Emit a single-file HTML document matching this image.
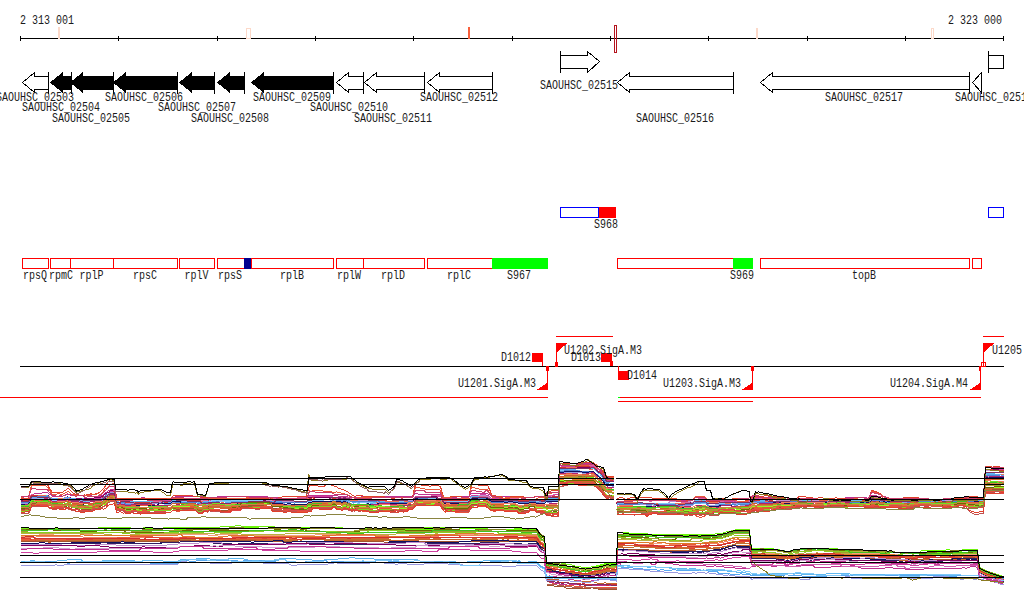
<!DOCTYPE html>
<html><head><meta charset="utf-8"><title>genome browser</title>
<style>
html,body{margin:0;padding:0;background:#fff;overflow:hidden}
svg{display:block}
text{font-family:"Liberation Mono",monospace;font-size:10px;fill:#1a1a1a;white-space:pre}
</style></head>
<body>
<svg width="1024" height="611" viewBox="0 0 1024 611" shape-rendering="crispEdges">
<rect x="0" y="0" width="1024" height="611" fill="#fff"/>
<rect x="20" y="38" width="984" height="1" fill="#000"/>
<rect x="20" y="36" width="1" height="5" fill="#000"/>
<rect x="118" y="36" width="1" height="5" fill="#000"/>
<rect x="217" y="36" width="1" height="5" fill="#000"/>
<rect x="315" y="36" width="1" height="5" fill="#000"/>
<rect x="413" y="36" width="1" height="5" fill="#000"/>
<rect x="512" y="36" width="1" height="5" fill="#000"/>
<rect x="610" y="36" width="1" height="5" fill="#000"/>
<rect x="708" y="36" width="1" height="5" fill="#000"/>
<rect x="807" y="36" width="1" height="5" fill="#000"/>
<rect x="905" y="36" width="1" height="5" fill="#000"/>
<rect x="1003" y="36" width="1" height="5" fill="#000"/>
<rect x="58" y="27" width="2" height="12" fill="#fcd9c9"/>
<rect x="246.5" y="28.5" width="4" height="10" fill="#fff" stroke="#fcd9c9"/>
<rect x="468" y="27" width="2" height="12" fill="#f9603c"/>
<rect x="756" y="28" width="2" height="11" fill="#fcd9c9"/>
<rect x="931.5" y="28.5" width="2" height="10" fill="#fff" stroke="#fcd9c9"/>
<rect x="614.5" y="25.5" width="2" height="27" fill="none" stroke="#b4141e"/>
<text transform="translate(20,24) scale(1,1.2)">2 313 001</text>
<text transform="translate(948,24) scale(1,1.2)">2 323 000</text>
<path d="M48.5,76.5 L34.5,76.5 L34.5,72.5 L22.5,82.5 L34.5,92.5 L34.5,89.5 L48.5,89.5" fill="#fff" stroke="#000"/>
<rect x="48" y="72" width="1" height="22" fill="#000"/>
<polygon points="50,82.5 63,72 63,76 71,76 71,90 63,90 63,93" fill="#000"/>
<rect x="71" y="72" width="1" height="22" fill="#000"/>
<polygon points="70,82.5 83,72 83,76 113,76 113,90 83,90 83,93" fill="#000"/>
<rect x="113" y="72" width="1" height="22" fill="#000"/>
<polygon points="113,82.5 126,72 126,76 177,76 177,90 126,90 126,93" fill="#000"/>
<rect x="177" y="72" width="1" height="22" fill="#000"/>
<polygon points="179,82.5 192,72 192,76 214,76 214,90 192,90 192,93" fill="#000"/>
<rect x="214" y="72" width="1" height="22" fill="#000"/>
<polygon points="217,82.5 230,72 230,76 244,76 244,90 230,90 230,93" fill="#000"/>
<rect x="244" y="72" width="1" height="22" fill="#000"/>
<polygon points="251,82.5 264,72 264,76 333,76 333,90 264,90 264,93" fill="#000"/>
<rect x="333" y="72" width="1" height="22" fill="#000"/>
<path d="M363.5,76.5 L348.5,76.5 L348.5,72.5 L336.5,82.5 L348.5,92.5 L348.5,89.5 L363.5,89.5" fill="#fff" stroke="#000"/>
<rect x="363" y="72" width="1" height="22" fill="#000"/>
<path d="M424.5,76.5 L376.5,76.5 L376.5,72.5 L364.5,82.5 L376.5,92.5 L376.5,89.5 L424.5,89.5" fill="#fff" stroke="#000"/>
<rect x="424" y="72" width="1" height="22" fill="#000"/>
<path d="M492.5,76.5 L439.5,76.5 L439.5,72.5 L427.5,82.5 L439.5,92.5 L439.5,89.5 L492.5,89.5" fill="#fff" stroke="#000"/>
<rect x="492" y="72" width="1" height="22" fill="#000"/>
<path d="M733.5,76.5 L629.5,76.5 L629.5,72.5 L617.5,82.5 L629.5,92.5 L629.5,89.5 L733.5,89.5" fill="#fff" stroke="#000"/>
<rect x="733" y="72" width="1" height="22" fill="#000"/>
<path d="M969.5,76.5 L772.5,76.5 L772.5,72.5 L760.5,82.5 L772.5,92.5 L772.5,89.5 L969.5,89.5" fill="#fff" stroke="#000"/>
<rect x="969" y="72" width="1" height="22" fill="#000"/>
<path d="M981.5,72.5 L972.5,82.5 L981.5,92.5" fill="#fff" stroke="#000"/>
<rect x="981" y="72" width="1" height="22" fill="#000"/>
<path d="M560.5,55.5 L587.5,55.5 L587.5,51.5 L599.5,61.5 L587.5,72.5 L587.5,68.5 L560.5,68.5" fill="#fff" stroke="#000"/>
<rect x="560" y="51" width="1" height="22" fill="#000"/>
<rect x="988.5" y="55.5" width="15" height="13" fill="#fff" stroke="#000"/>
<rect x="988" y="51" width="1" height="22" fill="#000"/>
<text transform="translate(-4,101) scale(1,1.2)">SAOUHSC_02503</text>
<text transform="translate(22,111) scale(1,1.2)">SAOUHSC_02504</text>
<text transform="translate(52,122) scale(1,1.2)">SAOUHSC_02505</text>
<text transform="translate(105,101) scale(1,1.2)">SAOUHSC_02506</text>
<text transform="translate(158,111) scale(1,1.2)">SAOUHSC_02507</text>
<text transform="translate(191,122) scale(1,1.2)">SAOUHSC_02508</text>
<text transform="translate(253,101) scale(1,1.2)">SAOUHSC_02509</text>
<text transform="translate(310,111) scale(1,1.2)">SAOUHSC_02510</text>
<text transform="translate(354,122) scale(1,1.2)">SAOUHSC_02511</text>
<text transform="translate(420,101) scale(1,1.2)">SAOUHSC_02512</text>
<text transform="translate(540,89) scale(1,1.2)">SAOUHSC_02515</text>
<text transform="translate(636,122) scale(1,1.2)">SAOUHSC_02516</text>
<text transform="translate(825,101) scale(1,1.2)">SAOUHSC_02517</text>
<text transform="translate(955,101) scale(1,1.2)">SAOUHSC_02518</text>
<rect x="22.5" y="258.5" width="26" height="10" fill="#fff" stroke="#ff0000"/>
<rect x="50.5" y="258.5" width="21" height="10" fill="#fff" stroke="#ff0000"/>
<rect x="70.5" y="258.5" width="43" height="10" fill="#fff" stroke="#ff0000"/>
<rect x="113.5" y="258.5" width="64" height="10" fill="#fff" stroke="#ff0000"/>
<rect x="179.5" y="258.5" width="35" height="10" fill="#fff" stroke="#ff0000"/>
<rect x="217.5" y="258.5" width="27" height="10" fill="#fff" stroke="#ff0000"/>
<rect x="251.5" y="258.5" width="82" height="10" fill="#fff" stroke="#ff0000"/>
<rect x="336.5" y="258.5" width="27" height="10" fill="#fff" stroke="#ff0000"/>
<rect x="363.5" y="258.5" width="61" height="10" fill="#fff" stroke="#ff0000"/>
<rect x="427.5" y="258.5" width="65" height="10" fill="#fff" stroke="#ff0000"/>
<rect x="617.5" y="258.5" width="116" height="10" fill="#fff" stroke="#ff0000"/>
<rect x="760.5" y="258.5" width="209" height="10" fill="#fff" stroke="#ff0000"/>
<rect x="972.5" y="258.5" width="9" height="10" fill="#fff" stroke="#ff0000"/>
<rect x="244" y="258" width="7" height="11" fill="#000090"/>
<rect x="492" y="258" width="56" height="11" fill="#00ff00"/>
<rect x="733" y="258" width="20" height="11" fill="#00ff00"/>
<rect x="560.5" y="207.5" width="38" height="10" fill="#fff" stroke="#0000ff"/>
<rect x="599" y="207" width="17" height="11" fill="#ff0000"/>
<rect x="988.5" y="207.5" width="15" height="10" fill="#fff" stroke="#0000ff"/>
<text transform="translate(23,279) scale(1,1.2)">rpsQ</text>
<text transform="translate(49,279) scale(1,1.2)">rpmC</text>
<text transform="translate(79.5,279) scale(1,1.2)">rplP</text>
<text transform="translate(133,279) scale(1,1.2)">rpsC</text>
<text transform="translate(184.5,279) scale(1,1.2)">rplV</text>
<text transform="translate(218,279) scale(1,1.2)">rpsS</text>
<text transform="translate(280,279) scale(1,1.2)">rplB</text>
<text transform="translate(337,279) scale(1,1.2)">rplW</text>
<text transform="translate(381,279) scale(1,1.2)">rplD</text>
<text transform="translate(447,279) scale(1,1.2)">rplC</text>
<text transform="translate(507,279) scale(1,1.2)">S967</text>
<text transform="translate(730,279) scale(1,1.2)">S969</text>
<text transform="translate(852,279) scale(1,1.2)">topB</text>
<text transform="translate(594,228) scale(1,1.2)">S968</text>
<rect x="20" y="366" width="984" height="1" fill="#000"/>
<rect x="556" y="336" width="57" height="1" fill="#ff0000"/>
<rect x="983" y="336" width="21" height="1" fill="#ff0000"/>
<rect x="0" y="397" width="548" height="1" fill="#ff0000"/>
<rect x="618" y="397" width="363" height="1" fill="#ff0000"/>
<rect x="618" y="397" width="2" height="1" fill="#00ff00"/>
<rect x="618" y="401" width="135" height="1" fill="#ff0000"/>
<polygon points="556,343 567.5,343 556,353" fill="#ff0000"/>
<rect x="556" y="343" width="1" height="24" fill="#ff0000"/>
<rect x="555" y="362" width="3" height="5" fill="#ff0000"/>
<polygon points="983,343 994.5,343 983,353" fill="#ff0000"/>
<rect x="983" y="343" width="1" height="24" fill="#ff0000"/>
<rect x="981.5" y="362.5" width="4" height="4" fill="none" stroke="#ff0000"/>
<polygon points="548,390 536.5,390 548,382.5" fill="#ff0000"/>
<rect x="547" y="366" width="1" height="24" fill="#ff0000"/>
<rect x="546" y="366" width="3" height="5" fill="#ff0000"/>
<polygon points="753,390 741.5,390 753,382.5" fill="#ff0000"/>
<rect x="752" y="366" width="1" height="24" fill="#ff0000"/>
<rect x="751" y="366" width="3" height="5" fill="#ff0000"/>
<polygon points="981,390 969.5,390 981,382.5" fill="#ff0000"/>
<rect x="980" y="366" width="1" height="24" fill="#ff0000"/>
<rect x="979" y="366" width="2" height="5" fill="#ff0000"/>
<rect x="532" y="353" width="11" height="9" fill="#ff0000"/>
<rect x="542" y="362" width="1" height="4" fill="#ff0000"/>
<rect x="601" y="353" width="11" height="9" fill="#ff0000"/>
<rect x="610" y="361" width="3" height="5" fill="#ff0000"/>
<rect x="618" y="366" width="1" height="6" fill="#ff0000"/>
<rect x="618" y="371" width="11" height="9" fill="#ff0000"/>
<text transform="translate(501,361) scale(1,1.2)">D1012</text>
<text transform="translate(564,354) scale(1,1.2)">U1202.SigA.M3</text>
<text transform="translate(571,361) scale(1,1.2)">D1013</text>
<text transform="translate(458,387) scale(1,1.2)">U1201.SigA.M3</text>
<text transform="translate(627,379) scale(1,1.2)">D1014</text>
<text transform="translate(663,387) scale(1,1.2)">U1203.SigA.M3</text>
<text transform="translate(890,387) scale(1,1.2)">U1204.SigA.M4</text>
<text transform="translate(992,354) scale(1,1.2)">U1205</text>
<g transform="translate(.5,.5)" fill="none" stroke-width="1">
<path d="M20 497h3l1 1h4l1 -2l1 -1l1 -1h2l1 -1h7l1 -1h5l1 1l1 1h1l1 1l1 1h10l1 -1h2l1 -1h3l1 1h21l1 1h8l1 -1h1l1 -1l1 -1l1 -1h1l1 -1l1 -1h1l1 -1h4l1 5l1 5h14l1 -1h9l1 -1h3l1 1h25l1 -1h3l1 -1h28l1 1h12l1 -1h50l1 1h13l1 -1h25l1 -1h29l1 1h9l1 1h12l1 -1h51l1 -1l1 -1l1 -1h2l1 1h22l1 1l1 1l1 1h13l1 -1h11l1 -1l1 -1l1 -1h16l1 1h1l1 1l1 1h21l1 1h20l1 -1h10l1 -2l1 -2h11l1 -1l1 -28h34l1 1l1 1l1 1l1 1l1 1l1 1h1l1 2l1 1l1 1l1 2l1 1l1 1h7M616 499h7l1 1h62l1 -1h1l1 1h3l1 -1l1 -1l1 -1h5l1 -1h3l1 1l1 1l1 1h42l1 -1l1 -1l1 -1h10l1 1h25l1 1h24l1 1h30l1 -2h21l1 1h1l1 -1l1 -1l1 -1h5l1 1h6l1 1h4l1 1h27l1 1h26l1 1h8l1 -1h1l1 -2h10l1 1h5l1 -1h11l1 -18l1 -12h17l1 1" stroke="#c03090"/>
<path d="M20 498h8l1 -2l1 -1l1 -1h1l1 1h14l1 1h1l1 1h1l1 1h9l1 1h1l1 -1h5l1 1h3l1 1h9l1 -1h16l1 -1h1l1 -1l1 -1l1 -1h1l1 -1h1l1 -1l1 -1h4l1 5l1 5h4l1 -1h49l1 -1l1 -1h19l1 1h18l1 1h5l1 -2h48l1 -1h30l1 -1h10l1 -1h17l1 1h22l1 1h2l1 1h6l1 -1h9l1 1h24l1 1h3l1 -1h14l1 -1h1l1 -1h15l1 -2h9l1 1l1 2l1 1h14l1 1h10l1 -2l1 -1l1 -1h16l1 1l1 1h29l1 1h25l1 -2l1 -2h6l1 -1h5l1 -29h19l1 -1h2l1 1h11l1 1l1 1l1 1l1 1h1l1 1l1 1l1 1l1 1l1 2l1 1l1 1l1 2h7M616 501h12l1 -1h19l1 1h2l1 -1h17l1 1h10l1 1h11l1 -1l1 -1l1 -1h2l1 -1h6l1 1l1 1l1 1l1 1h4l1 -1h35l1 -1l1 -1h1l1 -1h13l1 1h26l1 1h75l1 -1l1 -1l1 -1h6l1 1h4l1 1h4l1 1h9l1 -1h42l1 1h12l1 -1h10l1 1h10l1 -1h7l1 -17l1 -13h5l1 1h5l1 -2h2l1 1h3" stroke="#e060a0"/>
<path d="M20 500h8l1 -1l1 -1l1 -2h3l1 -1h12l1 1l1 1h1l1 1h14l1 -1h2l1 1l1 1h2l1 -1h27l1 -1l1 -1l1 -1l1 -1h1l1 -1l1 -1h1l1 -1h3l1 -1h1l1 5l1 4h1l1 1l1 -1h1l1 1h2l1 1h26l1 -1h19l1 -1l1 -1h6l1 1h3l1 1h12l1 1h11l1 -1h11l1 1h10l1 -1h11l1 -1h6l1 1h20l1 -1l1 1h3l1 -1h10l1 1h6l1 -2h12l1 -1h4l1 -1h20l1 1h2l1 1h10l1 1h2l1 1h6l1 1h24l1 1h2l1 -1h22l1 -2h4l1 -1l1 -1l1 -1h25l1 1l1 1l1 1h25l1 -1l1 -1l1 -2h8l1 -1h5l1 1h2l1 1l1 1l1 1h8l1 1h4l1 1h5l1 1h29l1 -1h3l1 -2l1 -2h5l1 -1h2l1 -1h3l1 -29h1l1 1h32l1 1l1 1l1 1l1 1l1 1h1l1 1l1 2l1 1l1 1l1 2l1 1l1 1h7M616 502h22l1 1h53l1 -1l1 -1l1 -1h9l1 1l1 1h17l1 -1h8l1 1l1 -1h1l1 1h6l1 -1h5l1 -1l1 -1l1 -1h7l1 1h48l1 1h15l1 1h2l1 -1h13l1 1h16l1 1h1l1 -1h8l1 -1l1 -1l1 -1h4l1 1h5l1 1h1l1 -1h2l1 1h20l1 -1h45l1 -1h29l1 -16l1 -13h18" stroke="#d040a0"/>
<path d="M20 500h3l1 1h3l1 -1l1 -1l1 -2l1 -1h3l1 -1h13l1 2h1l1 1h12l1 -1h2l1 -1l1 1h2l1 1h22l1 -1h6l1 -1h1l1 -1l1 -1l1 -1h1l1 -1h1l1 -1l1 -1h2l1 1h1l1 5l1 4h5l1 2h39l1 1h4l1 -1h3l1 -1l1 -1h2l1 1h5l1 -1h9l1 -1h9l1 2h12l1 -1h3l1 -1h22l1 -1l1 1h5l1 1h23l1 1h5l1 -3h4l1 1h14l1 -1h9l1 -1h29l1 1h9l1 1h2l1 1h31l1 1h24l1 -1l1 1h3l1 -1l1 -1l1 -1h15l1 -2h5l1 2h3l1 1l1 1l1 1h25l1 -1l1 -1l1 -2h14l1 1h4l1 1h18l1 1h22l1 1h11l1 -1l1 -2h3l1 -1h5l1 -1h2l1 -29h34l1 1l1 1l1 1l1 1l1 1l1 1h1l1 2l1 1l1 1l1 2l1 1l1 1h7M616 503l1 1h13l1 -1h14l1 1l1 -1h42l1 -1h3l1 -1l1 -1h9l1 1h1l1 1h42l1 -1l1 -1l1 -1h4l1 1h13l1 -1h7l1 1h1l1 -1l1 1h33l1 -1h16l1 1h36l1 -1l1 -1l1 -1l1 1h7l1 1h1l1 1h4l1 1h3l1 -1h8l1 -1h12l1 1h39l1 -1h4l1 -1h24l1 -17l1 -12h13l1 2h4" stroke="#800060"/>
<path d="M20 503h6l1 -1h1l1 -2l1 -1l1 -2h2l1 1h2l1 -2h10l1 1h1l1 1h1l1 1l1 1h1l1 -1h7l1 -1h3l1 -1l1 1h3l1 1h7l1 1h20l1 -1l1 -1l1 -1h1l1 -1l1 -1h1l1 -1l1 -1h5l1 4l1 5h4l1 -1h3l1 1h46l1 -1h4l1 -1h18l1 1l1 -1h5l1 -1h11l1 1h21l1 1h28l1 -1h5l1 1h34l1 -1l1 -1h21l1 -1h5l1 1h12l1 1h2l1 1l1 -1h15l1 1h29l1 -1h13l1 -1l1 -1l1 -1h13l1 1h11l1 1l1 1l1 1h25l1 -2l1 -1l1 -2h6l1 -1h7l1 1h2l1 1l1 1l1 1h26l1 1h7l1 -1h5l1 1h12l1 -2l1 -1h4l1 -1l1 1h5l1 -1l1 -28h4l1 -1h8l1 1h20l1 1l1 1l1 1l1 1l1 1h1l1 1l1 2l1 1l1 1h1l1 2l1 1h7M616 502h16l1 1h35l1 -2h21l1 1h1l1 -1h1l1 -1h10l1 1l1 1h26l1 1h5l1 -1h8l1 -1h1l1 -1l1 -1h16l1 1h3l1 -1h2l1 1h13l1 1h4l1 -1h49l1 1h15l1 -1h7l1 -1h1l1 -1h13l1 1h9l1 2h22l1 -1h4l1 1h6l1 -1h24l1 -1h28l1 -16l1 -13h16l1 1h1" stroke="#c090d0"/>
<path d="M20 501h2l1 -1h5l1 -2l1 -1l1 -2h16l1 1l1 1h1l1 1h1l1 1h10l1 -1h2l1 -1l1 1h2l1 1h29l1 -1l1 -1l1 -1h1l1 -1l1 -1h1l1 -1l1 -1h3l1 -1h1l1 5l1 5h2l1 -1h1l1 2h28l1 1h6l1 -1h13l1 -1l1 -1h2l1 -1h4l1 1h20l1 2h6l1 -3h35l1 1h18l1 -1h6l1 -1h1l1 1h34l1 -1h4l1 -1h1l1 2h17l1 -1h3l1 1h12l1 1h8l1 1h13l1 -1h14l1 1h25l1 -1l1 -1l1 -1h11l1 -1h7l1 1h5l1 -1l1 2l1 1h25l1 -2h1l1 -2h7l1 1h8l1 1l1 1h1l1 1h53l1 -1l1 -2h5l1 -1h6l1 -29h15l1 -1h14l1 1h4l1 1l1 1l1 1l1 1h1l1 1l1 1l1 2l1 1l1 1l1 2l1 1l1 1h2l1 -1h2l1 1M616 502l1 1h6l1 -1h9l1 1h33l1 1h23l1 -1l1 -1l1 -1l1 -1h3l1 -1h6l1 1l1 1h12l1 1h29l1 -1l1 -1l1 -1h1l1 1h18l1 -1h35l1 1h2l1 1h34l1 -1h14l1 1h6l1 -1l1 -1l1 -1h2l1 1h8l1 1h4l1 1h15l1 -1h32l1 -1h16l1 -1h29l1 -17l1 -12h7l1 1h10" stroke="#d03030"/>
<path d="M20 502h5l1 -1h2l1 -1l1 -2l1 -1h6l1 -2h9l1 1h1l1 1h1l1 1h11l1 -1h4l1 1h3l1 1h4l1 2h14l1 -1h5l1 1h2l1 -1l1 -1l1 -1h1l1 -1l1 -1h1l1 -1l1 -1h4l1 5l1 5h2l1 -1h11l1 -1h3l1 1h35l1 -1l1 -1h48l1 1h2l1 -1h8l1 -1h21l1 -1h16l1 1l1 -1h33l1 -1h1l1 1h39l1 1h8l1 1h11l1 1h7l1 -1h20l1 -1h3l1 1h9l1 -1l1 -1l1 -1h6l1 1h18l1 1l1 1l1 1h5l1 1h19l1 -2l1 -1l1 -1h6l1 -1h9l1 1l1 1l1 1l1 1h13l1 -1h23l1 -1h6l1 1h8l1 -1l1 -1l1 -1h11l1 -29h6l1 -2h10l1 1h11l1 1h3l1 -2l1 1l1 1h1l1 1l1 1l1 1l1 1l1 1l1 2l1 1l1 1l1 1l1 2h7M616 502h22l1 1h53l1 -1l1 -1l1 -1h3l1 1h1l1 -1h3l1 1h1l1 1h10l1 1h12l1 1h17l1 -1h1l1 -1l1 -1h107l1 -1h9l1 -1l1 -1h3l1 1h4l1 1h6l1 1h67l1 -1h23l1 -1h4l1 -14l1 -12h6l1 1h11" stroke="#f07050"/>
<path d="M20 501h8l1 -2l1 -1l1 -2h16l1 1l1 1l1 1l1 1l1 1h10l1 -1h3l1 -1l1 1h2l1 1h24l1 1l1 -1h4l1 -1l1 -1l1 -1l1 -1h1l1 -1l1 -1l1 -1l1 -1h4l1 5l1 5l1 -2h1l1 -1h1l1 1h31l1 1h10l1 1h3l1 -1h2l1 -1l1 -1h6l1 1h17l1 1h5l1 -1h5l1 -1l1 1h5l1 -1h1l1 1h3l1 -1h8l1 -1h3l1 2h36l1 1h34l1 -1h4l1 -1l1 -1h27l1 1h1l1 -1h2l1 1h3l1 1h18l1 1h6l1 -1h8l1 1h11l1 1h1l1 -1h3l1 1h4l1 -1h4l1 -1l1 -1l1 -1h10l1 1h12l1 -2h1l1 1l1 1l1 2h5l1 -1h19l1 -2l1 -1l1 -2h7l1 2h6l1 1h2l1 1l1 1l1 1h4l1 -2h6l1 1l1 1h3l1 -1h5l1 1h14l1 -1h12l1 1h2l1 -2l1 -1h1l1 -1h10l1 -29h16l1 -1h17l1 1l1 1l1 1l1 1l1 1h1l1 1l1 2l1 1l1 1l1 1l1 2l1 1h3l1 1h3M616 503h29l1 1h5l1 -1h3l1 1h34l1 -1h1l1 -1l1 -1l1 -1h3l1 1h2l1 -1h2l1 1l1 1h2l1 1h9l1 -1h24l1 2h4l1 -1h1l1 -1l1 -1h7l1 -1h8l1 1h32l1 -1h8l1 1h19l1 -1h37l1 -1h1l1 -1h7l1 1h5l1 1h22l1 1h1l1 -1h32l1 1h10l1 -1h13l1 1h1l1 -1h13l1 -15l1 -12h9l1 -1h8" stroke="#60b8f0"/>
<path d="M20 501h8l1 -1l1 -2l1 -1h14l1 -2h1l1 1l1 1h1l1 1h6l1 1h1l1 1h2l1 -2h1l1 -1h4l1 1h5l1 1h5l1 -1h1l1 2h16l1 -1l1 -1h1l1 -1l1 -1l1 -1h1l1 -1l1 -1h3l1 1h1l1 5l1 4h9l1 1l1 -1h6l1 1h6l1 -1h29l1 -1l1 -1h23l1 1h11l1 -1h10l1 -1l1 1h4l1 1h5l1 -1h50l1 1h24l1 -1h4l1 -1h2l1 1h25l1 1h1l1 -1h3l1 1h2l1 1h1l1 -1h17l1 1h7l1 -1h34l1 -2l1 -1l1 -1h25l1 2l1 1l1 1h23l1 -1h1l1 -1l1 -1l1 -2h12l1 1h3l1 1l1 1l1 1h27l1 1h7l1 -1h2l1 -1h2l1 1h3l1 1h8l1 -1l1 -1h9l1 -1l1 -1h1l1 -29h8l1 1h11l1 1h13l1 1l1 1l1 1l1 1h1l1 1l1 1l1 1l1 2l1 1l1 1l1 2l1 1h2l1 -1h4M616 504h29l1 1h5l1 -1h3l1 1h36l1 -1l1 -1h7l1 -1h2l1 1l1 1h2l1 1h9l1 -1h13l1 -2h3l1 1h11l1 -1h1l1 -1l1 -1h2l1 1h9l1 1h11l1 -1h8l1 1h8l1 -1h13l1 1h6l1 -1h19l1 1h25l1 1h1l1 -1h4l1 -1l1 -1h6l1 -1h1l1 1h9l1 1h32l1 -1h7l1 1h7l1 -1h6l1 1h7l1 -1h1l1 -1h2l1 1h25l1 -15l1 -11h15l1 1h2" stroke="#58a8f0"/>
<path d="M20 502h3l1 1l1 -1h3l1 -1l1 -1l1 -2h17l1 1h1l1 1h7l1 -1h7l1 -1l1 1h2l1 1h7l1 2h6l1 -1h14l1 -1h1l1 -1h1l1 -1l1 -1l1 -1h1l1 -1h5l1 4l1 5h4l1 1h9l1 -1h3l1 1h5l1 -1h3l1 1h18l1 -1h6l1 -1l1 -1h9l1 -1h13l1 1h1l1 1h4l1 -1h5l1 -1l1 1l1 -2h8l1 1h10l1 -1h31l1 1h8l1 1h34l1 -1h4l1 -1h11l1 1h5l1 -1h10l1 1h1l1 -1h3l1 1h9l1 2h2l1 -1h12l1 1h6l1 -1h1l1 1h10l1 -1h5l1 -1h4l1 1h8l1 -1l1 -2l1 -1h25l1 2l1 1l1 1h3l1 -1h21l1 -1l1 -1l1 -2h16l1 1l1 1l1 1h13l1 1h12l1 1h10l1 -1l1 -1h3l1 1h6l1 1h4l1 -2l1 -1h12l1 -29h11l1 1h22l1 1l1 1l1 1l1 1h1l1 1l1 1l1 2l1 1l1 1l1 1l1 2l1 1h3l1 -1h3M616 504h29l1 1h5l1 -1h5l1 -1h16l1 1h16l1 -1h1l1 -1l1 -1h3l1 1h1l1 1h4l1 1h2l1 1h5l1 -1h3l1 -1h5l1 1h23l1 -1h1l1 -1h4l1 1h30l1 -1h25l1 -1h7l1 1h47l1 -1h1l1 -1h8l1 1h5l1 1h23l1 -1l1 1h6l1 -1h12l1 1h14l1 -1h8l1 -1h19l1 1h4l1 -1h3l1 -14l1 -12h1l1 1l1 1h12l1 1h2" stroke="#80c8f8"/>
<path d="M20 503h8l1 -1l1 -2l1 -2h5l1 1h11l1 1h1l1 1l1 1h7l1 -3h4l1 -1h3l1 1h2l1 1h22l1 -1h5l1 -1h1l1 -1l1 -1h1l1 -1l1 -1l1 -1h1l1 -1h3l1 1l1 5l1 4h6l1 1h16l1 1h3l1 -1h23l1 1h2l1 -1l1 -1h7l1 1h5l1 -1h1l1 1h3l1 1h5l1 1h4l1 -1h5l1 -1l1 1l1 -1h8l1 1h4l1 -1h2l1 1h1l1 -1h45l1 1h4l1 -1h3l1 1h21l1 -1h4l1 -1h19l1 -1h3l1 1h12l1 1h2l1 1l1 -1l1 1h11l1 -1h2l1 1h8l1 -2h10l1 1h10l1 -1h2l1 1h4l1 -1h4l1 -1l1 -1l1 -1h25l1 2l1 2l1 1h25l1 -1l1 -1l1 -2h3l1 -1h12l1 2h1l1 1l1 1h10l1 -1h1l1 1h3l1 -1h20l1 -1h6l1 1h6l1 1h1l1 -1l1 -1l1 1h4l1 -1h6l1 -29h3l1 1l1 -1h17l1 1h4l1 -1h4l1 -1h1l1 1l1 1l1 1l1 1l1 1l1 1h1l1 2l1 1l1 1l1 2l1 1l1 1h5l1 1h1M616 505h1l1 -1h27l1 1h5l1 -1l1 1h4l1 -1h14l1 1h19l1 -1l1 -1l1 -1h10l1 1l1 2h11l1 -1h14l1 1h1l1 1h3l1 -1h8l1 -1h1l1 -1l1 -1h75l1 -1h13l1 1h15l1 -1h4l1 1h5l1 -1l1 -1h6l1 1h3l1 1h5l1 -1h10l1 1l1 -1h2l1 1h12l1 -1h16l1 1h17l1 1h3l1 -1h28l1 -1l1 -13l1 -11h18" stroke="#9a9ae0"/>
<path d="M20 502h8l1 -2l1 -1l1 -2l1 -1h16l1 1l1 1l1 1h5l1 1h7l1 -1h1l1 -1l1 1h2l1 1h8l1 1h1l1 -1h17l1 -1h1l1 -1l1 -1l1 -1l1 -1l1 -1l1 1l1 -1l1 -1h5l1 4l1 5h8l1 2h14l1 1h30l1 -1l1 -1h2l1 -1h21l1 1h5l1 -1h12l1 -1h2l1 1l1 1h10l1 -1h36l1 -1h3l1 1h21l1 1l1 -1h11l1 -1l1 -1h3l1 -1h19l1 1h1l1 -1h1l1 1h4l1 1h1l1 -1h3l1 1l1 -1h1l1 1h26l1 -1h1l1 2h28l1 -1h4l1 -1l1 -1l1 -1h12l1 2h12l1 1l1 1l1 2h24l1 -2l1 -1l1 -1l1 -2h16l1 2h1l1 1l1 1h11l1 -1h14l1 1h10l1 -1h6l1 1h2l1 -1h6l1 -1h12l1 -29h4l1 -1h13l1 1h15l1 1l1 1l1 1h1l1 1l1 1l1 1l1 1h1l1 1l1 2l1 1l1 1h2l1 1h4M616 504h23l1 -1h5l1 1h5l1 -1h2l1 1h20l1 1h6l1 -1h9l1 -1h1l1 -1h10l1 1l1 2h1l1 1h9l1 -2h16l1 1h1l1 -1h10l1 -1h1l1 -1l1 -1h4l1 1h15l1 -1h26l1 1h68l1 -1h1l1 -1h9l1 1h6l1 1h7l1 -1h1l1 1h2l1 -1h5l1 1h10l1 -1h12l1 1h21l1 -1h3l1 -1h9l1 1h16l1 -14l1 -12h14l1 1h3" stroke="#5080d0"/>
<path d="M20 504h8l1 -2l1 -1l1 -2h17l1 1h1l1 1l1 1h4l1 -1h9l1 -1l1 1h1l1 1h1l1 1h6l1 1h4l1 -1h8l1 -1h7l1 -1h1l1 -1l1 -1l1 -1h1l1 -1l1 -1h1l1 -1h4l1 5l1 4h3l1 -1l1 1h3l1 1h32l1 -2h12l1 -1l1 -1h8l1 3h4l1 -1h5l1 1h5l1 1h4l1 -1l1 -1h33l1 -1h33l1 1h10l1 1h3l1 -1h3l1 1h15l1 -1l1 -1h3l1 -1h28l1 1h1l1 -1h2l1 1h1l1 1h2l1 1h10l1 1h4l1 -2h1l1 1h7l1 -1h31l1 -1h3l1 -1l1 -2l1 -1h2l1 1h17l1 -1h3l1 1l1 1l1 1l1 1l1 1h14l1 -1h9l1 -1l1 -1l1 -2h6l1 -1h7l1 1h1l1 1l1 1h1l1 1h12l1 1h3l1 -1h4l1 1h4l1 1h10l1 -1h6l1 1h8l1 -1l1 -1h12l1 -29h4l1 -1h17l1 1h6l1 -1h4l1 1l1 1l1 1l1 1l1 1l1 1h1l1 2l1 1l1 1l1 2l1 1l1 1h7M616 506h39l1 -1h15l1 1h3l1 1h16l1 -1h1l1 -1h10l1 1h12l1 -1h12l1 1h16l1 -1h1l1 -1l1 -1h4l1 1h8l1 -1h6l1 -1h9l1 1h11l1 -1h37l1 1h3l1 -1h7l1 1h14l1 -1h3l1 1h1l1 -1h3l1 -1l1 -1l1 1h7l1 1h2l1 -1h1l1 1h1l1 -1h7l1 1h2l1 1h11l1 -1h24l1 1h7l1 1h9l1 -1h3l1 -1h4l1 -1h5l1 1h5l1 -1h9l1 -13l1 -11h18" stroke="#101060"/>
<path d="M20 505h4l1 -1h3l1 -1l1 -1l1 -2h12l1 -2h3l1 1h1l1 1h1l1 1h4l1 -1h9l1 -1l1 1h2l1 1h7l1 1h10l1 -1h10l1 -1l1 -1l1 -1h1l1 -1l1 -1h2l1 -1l1 -1h4l1 5l1 5h2l1 -1h1l1 1h3l1 1h5l1 -1h17l1 -1h2l1 1h2l1 1h15l1 -1l1 -1h3l1 1h3l1 -1h15l1 1h6l1 -1h16l1 1h10l1 -1h1l1 1h7l1 -1h30l1 1h11l1 1h18l1 1h3l1 -1l1 -1h2l1 1l1 -1h2l1 -1h12l1 -1h7l1 1h6l1 -1h2l1 1h2l1 1h19l1 1h1l1 -1h7l1 -1h10l1 1h6l1 1h10l1 -1h4l1 -1l1 -1l1 -2h22l1 1h2l1 2l1 1l1 1l1 1l1 -1h17l1 -1h5l1 -1l1 -1l1 -2h5l1 -1h1l1 2h6l1 1h1l1 1h1l1 1l1 1h32l1 -1h4l1 -1h6l1 1h6l1 1h1l1 -1h3l1 -1h9l1 -30h18l1 1h7l1 -1h4l1 -1h2l1 1l1 1l1 1l1 2l1 1l1 1h1l1 2l1 1l1 1l1 1l1 2l1 1l1 -1l1 1h5M616 506h8l1 -1h7l1 1h12l1 1h5l1 -1h2l1 1h1l1 -1h33l1 1h1l1 -1h1l1 -1h10l1 1h2l1 1h9l1 -1h1l1 -1h9l1 1h13l1 -1h3l1 -1h2l1 -1h4l1 1h1l1 -1h16l1 -1h2l1 1h1l1 -1h11l1 1h1l1 -1h15l1 1h2l1 -1h7l1 1h9l1 -1h17l1 1h18l1 -1h1l1 -1h5l1 1h5l1 1h17l1 -1l1 1h7l1 -1h46l1 -1h10l1 1h10l1 -1h4l1 -13l1 -12h2l1 1l1 -1h14" stroke="#b02070"/>
<path d="M20 507h8l1 -2l1 -1l1 -2h1l1 -2h15l1 1h1l1 1h6l1 -1h7l1 -1h1l1 1l1 2h1l1 1h7l1 1h8l1 -1h11l1 -1h1l1 -1l1 -1h1l1 -1h1l1 -1l1 -1h1l1 -1h4l1 5l1 3h2l1 -1h1l1 1h3l1 1h5l1 -1h4l1 -1h3l1 1h7l1 -1h3l1 3h18l1 -1l1 -1h5l1 1h18l1 1h5l1 -1h5l1 -2h10l1 1h10l1 -1h6l1 -1h33l1 1h10l1 1h2l1 1h21l1 -1h3l1 -1h3l1 -1h24l1 1h1l1 -1h4l1 2h19l1 -1l1 1h9l1 -1h10l1 1h8l1 -1h8l1 -1h2l1 1h1l1 -1l1 -1l1 -1l1 -1h6l1 1h12l1 -1h3l1 1h1l1 1l1 1l1 1h24l1 -2l1 -1l1 -1h6l1 -1h7l1 1h1l1 1h1l1 1l1 1h5l1 1h6l1 1h9l1 -1h3l1 1h10l1 -1h6l1 1h8l1 -1h11l1 -1h1l1 -29h6l1 -1h5l1 1h16l1 -1h4l1 1l1 1l1 1l1 1l1 1l1 1h1l1 2l1 1l1 1l1 1l1 2l1 1h1l1 1h3l1 1h1M616 506h26l1 3h2l1 1h5l1 -1h2l1 -2h26l1 1h8l1 1h2l1 -1h7l1 -1h6l1 1h9l1 -1h29l1 -2h2l1 -1h2l1 -1h1l1 1h22l1 -1h3l1 1h5l1 -1h4l1 -1h19l1 1h53l1 -1h8l1 -1l1 1h5l1 1h4l1 -1h11l1 1h7l1 -1h46l1 -1h10l1 1h10l1 -1h4l1 -12l1 -10h18" stroke="#e8583a"/>
<path d="M20 505h8l1 -2l1 -1l1 -2h3l1 -1h12l1 1h1l1 1h1l1 1h4l1 -1h9l1 -1l1 1h2l1 1h7l1 1h13l1 -1h1l1 -1h7l1 -1h1l1 -1l1 -1l1 -1h1l1 -1h5l1 4l1 5h2l1 1h5l1 1h4l1 1l1 -1h6l1 1h2l1 -1h12l1 -1h2l1 1h13l1 -1l1 -1h13l1 -1h9l1 1l1 1h1l1 -2h3l1 -1h4l1 -1h11l1 1h4l1 1h5l1 -1h5l1 2h3l1 -1h30l1 1h18l1 1h1l1 -1h13l1 -1l1 -1h3l1 -1h23l1 1h4l1 1h1l1 -1h3l1 1h3l1 1h17l1 1h3l1 -1h5l1 -1h10l1 1h6l1 -1h10l1 -2h4l1 -1l1 -1l1 -1h7l1 1h12l1 -1h4l1 1l1 2l1 1l1 1h1l1 -1h3l1 2h18l1 -2h1l1 -2l1 -1h5l1 -1h7l1 1h1l1 1l1 1l1 1h25l1 1h1l1 1h5l1 -1h4l1 -1h6l1 1h20l1 -1h1l1 -29h22l1 1h8l1 -1h2l1 1l1 1l1 1l1 1l1 1l1 1l1 1l1 1l1 1l1 1l1 1l1 2l1 1h4l1 1h2M616 507h2l1 -2h13l1 1h12l1 1h33l1 -1h3l1 1h8l1 -1h1l1 -1l1 1h5l1 -1h3l1 1h2l1 1h6l1 1h2l1 -1h19l1 -1h7l1 1h1l1 -1h1l1 -1l1 -1h2l1 -1h1l1 1h15l1 -1h7l1 -1h43l1 1h1l1 -1h8l1 1l1 -1h7l1 1h24l1 -1h8l1 1h8l1 1h18l1 1h2l1 -1h7l1 -1h12l1 1h23l1 -1h1l1 -1h10l1 1h10l1 -1h4l1 -12l1 -10h5l1 1h12" stroke="#f08060"/>
<path d="M20 506h4l1 -1h3l1 -1l1 -2l1 -1h10l1 -2h5l1 1l1 1h1l1 1h13l1 -1h3l1 1h2l1 1h6l1 1h3l1 -1h11l1 -1h6l1 -1l1 -1l1 -1h1l1 -1l1 -1l1 -1h1l1 -1h3l1 1l1 5l1 5h2l1 -1h1l1 1l1 -1l1 1h16l1 1h12l1 -1h14l1 -1h2l1 -1l1 -1h22l1 1h1l1 1h11l1 -1h7l1 1l1 1h12l1 -1h9l1 -1h11l1 -1h18l1 2h34l1 -1h4l1 -2h9l1 1h3l1 -1h5l1 -1h3l1 1h4l1 1h1l1 -1h3l1 1h2l1 1h3l1 1h13l1 1l1 1h29l1 -1h3l1 1h4l1 -2h4l1 -1l1 -2l1 -1h10l1 1h2l1 -1h11l1 1l1 1l1 2h25l1 -1l1 -1l1 -2h6l1 -2h4l1 1h2l1 1h1l1 1l1 1l1 1h10l1 1h16l1 1h5l1 -1h4l1 -1h6l1 2h9l1 -1h12l1 -29h4l1 -1h14l1 1h15l1 1l1 1l1 1l1 1l1 1h1l1 2l1 1l1 2l1 1l1 1l1 1h3l1 1h3M616 508h2l1 -1h22l1 1h3l1 1h4l1 -2h8l1 1h33l1 -1h3l1 -1h8l1 1h4l1 2h6l1 -1h16l1 -2h12l1 -1h1l1 -1l1 -1h4l1 1h15l1 -1h5l1 1h15l1 -1h15l1 1h5l1 -1h51l1 -1h1l1 -1h1l1 1h2l1 -1h2l1 1h5l1 1h28l1 -1h16l1 1h11l1 -1h3l1 1h5l1 -1h3l1 -1h4l1 1h5l1 1h10l1 -2h4l1 -12l1 -11h6l1 1h11" stroke="#c86428"/>
<path d="M20 506h3l1 1l1 -1h3l1 -1l1 -2l1 -2h11l1 -1h4l1 1l1 1h1l1 1h8l1 1h4l1 -1h3l1 1h2l1 1h6l1 1h5l1 -1h7l1 -1h1l1 -1h6l1 -1l1 -1l1 -1h1l1 -1l1 -1l1 -1h1l1 -1h2l1 1h1l1 4l1 4h5l1 1h2l1 1h23l1 1h8l1 -1h12l1 -1l1 -1h8l1 -1h4l1 -1h1l1 1l1 1h6l1 1h1l1 1h4l1 -1h4l1 -1h11l1 1h6l1 -1h3l1 -1h9l1 -1h15l1 -1h9l1 1h4l1 2h18l1 1h12l1 -1h3l1 -1h3l1 -1h9l1 1h9l1 -2h3l1 1h4l1 1h1l1 -1h4l1 1h1l1 -1l1 1h17l1 1h4l1 1h3l1 -1h3l1 1h16l1 -1h3l1 1h1l1 1h2l1 -1h4l1 -2l1 -1l1 -1h4l1 -1h20l1 2l1 1l1 1l1 1h13l1 -2h10l1 -1l1 -1l1 -2h7l1 1h6l1 1h1l1 1h1l1 1l1 1h26l1 1h10l1 -2h1l1 1h4l1 1h22l1 -29h20l1 1h3l1 -3h9l1 1l1 1l1 1l1 1l1 1l1 1h1l1 2l1 1l1 1l1 1l1 2l1 1h7M616 507h9l1 1h1l1 -1h4l1 -1h12l1 1h13l1 -1h15l1 1h2l1 1h14l1 -1h2l1 -1h1l1 1h2l1 -1h3l1 1h2l1 1h9l1 -1h8l1 1h5l1 -1h14l1 -1l1 1l1 -1l1 -1h4l1 1l1 -1h14l1 -1h22l1 -1h16l1 1h35l1 -1h12l1 1h2l1 -1h5l1 -1h2l1 1h4l1 1h22l1 1h7l1 -1h7l1 -1h12l1 1h4l1 -1h14l1 -1h5l1 -1h9l1 1l1 1h10l1 -1l1 1h3l1 -11l1 -10h18" stroke="#40c020"/>
<path d="M20 505h8l1 -2l1 -1l1 -2h2l1 1h13l1 1h1l1 1h1l1 1h5l1 -1h4l1 1l1 -1h2l1 -1l1 1h2l1 1l1 1h21l1 -1h6l1 -1h1l1 -1l1 -1h1l1 -1l1 -1l1 -1l1 -1h5l1 4l1 5h2l1 -1h1l1 1h3l1 1h14l1 1h2l1 -1h4l1 -1h18l1 1h3l1 -1l1 -1h11l1 -1h11l1 1h1l1 1l1 -1h3l1 -1h2l1 1h1l1 -1h3l1 -1h7l1 1h4l1 1h5l1 -1h3l1 1h5l1 -1l1 -1h3l1 1h25l1 1h10l1 1h7l1 1h15l1 -1l1 -1h3l1 -1h15l1 -1h7l1 1h4l1 1h1l1 -1h1l1 -1l1 1h2l1 1h2l1 1l1 -1h1l1 1h19l1 1h4l1 -1h9l1 1h8l1 -1h3l1 1h4l1 -2h4l1 -1l1 -1l1 -1l1 -1h24l1 1l1 2l1 2h1l1 1l1 -1h22l1 -2l1 -1l1 -2h3l1 1h10l1 1h1l1 1h1l1 1l1 1h14l1 1h1l1 -1h9l1 2h5l1 -1h4l1 -1h6l1 1h22l1 -29h4l1 -1h17l1 1h2l1 -1h8l1 1l1 1l1 1l1 1h1l1 1l1 1l1 1h1l1 2l1 1l1 1l1 1h1l1 1h5M616 507h20l1 1h3l1 -1h4l1 1h9l1 -1h12l1 1h6l1 1h16l1 -1h15l1 1h9l1 -1h1l1 1h3l1 -1h15l1 -1h7l1 -1l1 1l1 -1l1 -1h4l1 1h2l1 -1h4l1 1h7l1 -1h24l1 -1h24l1 -1h13l1 -1h3l1 1h3l1 1h6l1 -1h18l1 -1h7l1 1h24l1 1h5l1 -1h7l1 -1h12l1 1h25l1 -1h10l1 1h10l1 -1h4l1 -10l1 -11h2l1 1h1l1 -1h7l1 2h5" stroke="#70e020"/>
<path d="M20 508h8l1 -2l1 -1l1 -3h16l1 1l1 1h2l1 1h7l1 -1h2l1 1l1 -1h2l1 -1l1 1h2l1 1h2l1 1h2l1 -1h8l1 1h6l1 -1h7l1 -1l1 -1h1l1 -1h1l1 -1l1 -1h1l1 -1l1 -1h4l1 5l1 4h2l1 -1h1l1 1h3l1 1h14l1 1h6l1 1h10l1 -2h10l1 1h1l1 -1l1 -1h3l1 1h3l1 -1h15l1 1h1l1 1h3l1 -1l1 -1h4l1 -1h9l1 -1h1l1 1h5l1 1h4l1 -1h9l1 -1l1 1h29l1 2h6l1 -1h11l1 1h15l1 -1l1 -1h3l1 -2h19l1 -1h3l1 1h4l1 1h1l1 -1h4l1 1h2l1 1h17l1 1h9l1 -1h1l1 1h26l1 -2h4l1 -1l1 -1l1 -1l1 -1h2l1 1h14l1 -1h5l1 1l1 1l1 1l1 2l1 1h1l1 -1h22l1 -2h1l1 -2h6l1 -1h6l1 2l1 1h1l1 1h1l1 1l1 1h26l1 2h4l1 -1l1 -1h4l1 -1h6l1 1h22l1 -29h4l1 -1h12l1 -1h4l1 1h4l1 1h6l1 1h1l1 1l1 1l1 1l1 1l1 1l1 1l1 1l1 2l1 1l1 1l1 1h3l1 1h3M616 509h27l1 -1h1l1 1l1 1h4l1 -1h26l1 1h4l1 1h5l1 -1h3l1 -1h10l1 -1l1 1h2l1 1h3l1 -1h20l1 -1h14l1 -1l1 1l1 -1l1 -1h4l1 1h9l1 -1h5l1 -1h9l1 -1l1 1l1 -1h5l1 1h3l1 -1h31l1 -1h2l1 1h39l1 -1h8l1 1h29l1 1l1 -1h7l1 -1h6l1 1h5l1 1l1 -1h9l1 1l1 -1h13l1 -1h2l1 -1h7l1 1h15l1 -11l1 -9h18" stroke="#808020"/>
<path d="M20 508h8l1 -2l1 -1l1 -3h2l1 1h13l1 1h1l1 1h1l1 -1h13l1 -1h2l1 1h1l1 1h2l1 1h5l1 1h2l1 -1h9l1 -1h7l1 -1l1 -1h1l1 -1l1 -1h1l1 -2h1l1 -1h5l1 4l1 5h2l1 -1h1l1 1h3l1 1h9l1 -1h3l1 1h5l1 -1h17l1 2h5l1 -1h1l1 -1l1 -1h3l1 1h3l1 -1h1l1 1h14l1 1h5l1 -1h5l1 -1h10l1 1h7l1 1h2l1 -2h3l1 -1h5l1 -1l1 1h19l1 -1h9l1 2h10l1 1h7l1 1h15l1 -1l1 -1h3l1 -1h1l1 -1h26l1 1h1l1 -1h2l1 1h3l1 1h4l1 1h7l1 1h13l1 -1h26l1 1h3l1 -2h2l1 -1h1l1 -1l1 -1l1 -1l1 -1h6l1 1h12l1 -1h2l1 1h1l1 1l1 2l1 1l1 1h24l1 -2l1 -1l1 -1h6l1 -1h7l1 2h2l1 1l1 1l1 1h22l1 -1h3l1 2h5l1 -1h3l1 1l1 -2h6l1 1h22l1 -29h4l1 -1h21l1 1h7l1 1l1 1h1l1 1l1 1l1 1l1 1l1 1l1 1l1 2l1 1l1 1l1 1h1l1 1h3l1 1h1M616 509l1 1h6l1 -1h6l1 1h8l1 -1h5l1 1h5l1 -1h16l1 -1h4l1 1h19l1 -1h4l1 1l1 1h1l1 -1h6l1 1h9l1 -1h1l1 -1h18l1 1h8l1 -1l1 1l1 -1l1 -1h1l1 -1h2l1 1h3l1 -1h11l1 -1h9l1 -1h11l1 -1h11l1 1h63l1 -1h4l1 1h2l1 1h22l1 1h7l1 -1h7l1 -1h12l1 1h11l1 -1h13l1 -1h10l1 1h15l1 -10l1 -9h15l1 -1h1l1 1" stroke="#a0a030"/>
<path d="M20 508h8l1 -2l1 -2l1 -2h16l1 1h2l1 1l1 1h1l1 -1h12l1 -1l1 1h2l1 1h4l1 1h16l1 -1h1l1 -1h5l1 -1h2l1 -1l1 -1h1l1 -2h1l1 -1h5l1 4l1 5h2l1 -1h3l1 1h1l1 1h14l1 1h5l1 -1l1 -1h5l1 1h17l1 -1l1 -1h3l1 1h6l1 -2h10l1 1h2l1 1h5l1 -1h5l1 -1h10l1 1h4l1 1h5l1 -1h6l1 -1h2l1 -1h27l1 -1h2l1 2h8l1 2h1l1 1h17l1 -1h1l1 1h3l1 -1l1 -1h3l1 -2h19l1 -2h3l1 2h4l1 1h1l1 -2h3l1 1h1l1 2h2l1 1l1 -1h1l1 1h13l1 1h7l1 1h1l1 -1h10l1 1h8l1 -1h8l1 -1h4l1 -1l1 -2l1 -1h3l1 -1h21l1 2l1 1h1l1 1h1l1 -1h2l1 1h19l1 -1l1 -1l1 -2h6l1 -1h3l1 1h3l1 2h2l1 1l1 1l1 1h3l1 -2h8l1 1h3l1 -1l1 1h8l1 1h10l1 -2l1 1h5l1 2h17l1 1h2l1 -1h1l1 -29h4l1 -1h7l1 1h21l1 1l1 1h1l1 1h1l1 1l1 1l1 1l1 1l1 1l1 2l1 1l1 1h5l1 1h1M616 508h11l1 1h1l1 1h15l1 1h4l1 1l1 -1h12l1 -2h12l1 1h4l1 -1l1 1h5l1 1h2l1 -1h11l1 -1h1l1 1h1l1 1h9l1 -1l1 1h7l1 -1h8l1 1h9l1 -2h1l1 -1l1 1l1 -1l1 -1h1l1 -1h2l1 1h15l1 -1h16l1 -1h4l1 -1h65l1 1h7l1 -1h9l1 1h18l1 1h3l1 -1h7l1 -1h7l1 -1h7l1 1h30l1 -1l1 -1h9l1 1h15l1 -10l1 -10h1l1 1h16" stroke="#e07828"/>
<path d="M20 508h7l1 -1l1 -1l1 -1l1 -3h4l1 1h10l1 1h1l1 1h1l1 1h14l1 -1l1 -1l1 1h2l1 1h7l1 1h6l1 -1h5l1 1l1 -1h7l1 -1h1l1 -1h1l1 -1l1 -1l1 -2l1 -1h1l1 -1h4l1 5l1 4h6l1 1h1l1 1h14l1 1h6l1 -1h17l1 -1h5l1 -1l1 -1h17l1 1h5l1 1h1l1 1h4l1 -1h4l1 -1l1 -1l1 1h9l1 1h9l1 -1l1 -2h9l1 -1h22l1 -1h2l1 1h4l1 2h10l1 2h7l1 1h3l1 -1h11l1 -1l1 -1h3l1 -1h23l1 1h4l1 1h1l1 -2h2l1 1h2l1 -1l1 1h15l1 1h2l1 1l1 -1h5l1 -1h8l1 1h14l1 1h7l1 -2h4l1 -1l1 -1l1 -1l1 -1h6l1 1h17l1 2l1 1l1 2h1l1 1l1 -2h6l1 1h15l1 -2l1 -1l1 -2h6l1 -1h7l1 1l1 1h1l1 1l1 1l1 1h18l1 -1h7l1 2h5l1 -1h4l1 -2h6l1 2h6l1 1h2l1 1h1l1 1h3l1 -1l1 1h5l1 -30h4l1 1h6l1 1h22l1 1h2l1 1l1 1l1 1l1 1l1 1l1 1l1 2l1 1l1 1l1 2h7M616 511h15l1 -1h13l1 2h5l1 -1h16l1 -1h6l1 1l1 -1h2l1 1h3l1 -1h7l1 -1h2l1 -1h3l1 1h2l1 -1h6l1 1h9l1 -2h7l1 2h6l1 -1h1l1 1h4l1 -1h1l1 1h2l1 -1h2l1 -1l1 1l1 -1l1 -1h2l1 -1h1l1 1h15l1 -1h21l1 -1h40l1 1h5l1 -1h36l1 1h9l1 1h12l1 1l1 -1h6l1 -1h7l1 -1h12l1 1h25l1 -1h10l1 1h10l1 -1h3l1 1l1 -9l1 -9h18" stroke="#90ff20"/>
<path d="M20 508h8l1 -1l1 -2l1 -2l1 -1h4l1 1h8l1 -1h1l1 2l1 1h1l1 1h9l1 -1h1l1 1h3l1 -1h1l1 1l1 -1l1 1h2l1 1h4l1 1h12l1 -1h1l1 -1h6l1 -1l1 -1l1 -1l1 -1h1l1 -1l1 -1l1 -1h1l1 -1h4l1 5l1 4h2l1 -1h1l1 1h1l1 1h2l1 1h4l1 -1h1l1 1h2l1 -1h10l1 2h10l1 -1h2l1 -1h3l1 2h5l1 -1l1 -1h13l1 -1h1l1 1h8l1 1l1 1h4l1 -2h4l1 -2h11l1 1h1l1 1h8l1 -1h8l1 -3l1 -2h28l1 2h1l1 2h10l1 1h4l1 1h5l1 1h12l1 -1l1 -1h3l1 -2h19l1 -1h3l1 2h4l1 1h1l1 -1l1 1h2l1 1h2l1 1h3l1 -3h4l1 1h9l1 1h7l1 -1h5l1 2h6l1 1h8l1 -1h3l1 1h4l1 -2h4l1 -2l1 -1l1 -1h20l1 -1h1l1 -1h1l1 1l1 1l1 2l1 1l1 1h24l1 -2h1l1 -2h6l1 -1h7l1 1h1l1 1l1 1h1l1 1h12l1 1h3l1 -1h4l1 1h1l1 -1h2l1 2h5l1 -1h4l1 -2h5l1 3l1 1h7l1 1h5l1 1l1 -2h1l1 1h3l1 -1l1 1l1 -30h4l1 -1h29l1 1l1 1l1 1l1 1l1 1l1 1l1 1l1 1l1 1l1 1l1 3l1 1l1 1h5l1 1h1M616 511h19l1 -1h9l1 2h5l1 -1h13l1 -1h4l1 2h24l1 -1h2l1 1h2l1 -1l1 1h1l1 -1h3l1 1h9l1 -1l1 1h20l1 -3h7l1 -1l1 1l1 -1l1 -1h4l1 1l1 1h2l1 -1h11l1 -1h7l1 -1h11l1 -1h1l1 -1h3l1 1h70l1 -1h7l1 1l1 1h27l1 1h2l1 -1h3l1 -1h6l1 -1h9l1 1h13l1 -1h11l1 -1h10l1 1h6l1 1h8l1 -9l1 -9h8l1 -1h9" stroke="#6b6b00"/>
<path d="M20 510h1l1 -1h2l1 -1h4l1 -2l1 -3h8l1 -1h7l1 1h2l1 1l1 1l1 -1h16l1 1h1l1 1h5l1 1h14l1 -1h1l1 -1h5l1 -1h1l1 -1h1l1 -1l1 -1l1 -1l1 -1h1l1 -1h3l1 -1l1 5l1 4h6l1 1h1l1 1h13l1 1h6l1 1l1 -1h6l1 1h9l1 -2h6l1 -1l1 -1l1 1h5l1 1l1 -1h15l1 1h1l1 1h1l1 1h2l1 -2h2l1 -1h2l1 -1h10l1 1h10l1 -1h5l1 -1h3l1 -1h11l1 4h18l1 2h18l1 1h15l1 -1h4l1 -2h6l1 -3h16l1 1h4l1 1h1l1 -1h3l1 1h2l1 1h18l1 1h3l1 1h3l1 -1h12l1 1h8l1 -1h3l1 1h4l1 -2h4l1 -2l1 -1h1l1 -1h6l1 1h17l1 1l1 2l1 2l1 1h1l1 -1h17l1 -1h4l1 -1l1 -1l1 -2h6l1 -1h7l1 2h2l1 1l1 1l1 1h9l1 -1h2l1 1h3l1 -1h7l1 1h1l1 1h9l1 1l1 -2h6l1 1l1 1h4l1 -1h2l1 1h4l1 1h8l1 -30h31l1 -1h2l1 1l1 1l1 1l1 1l1 1l1 1l1 1l1 1l1 1l1 2l1 1l1 1l1 2h7M616 511h29l1 2h5l1 -2h23l1 1h17l1 -1h4l1 1h5l1 -1h3l1 1h9l1 -1h29l1 -2l1 1l1 -1l1 -1h4l1 1h3l1 -1l1 -1h10l1 -1h21l1 -1h28l1 1h2l1 -1h16l1 1h34l1 1h9l1 -2h12l1 1h7l1 -1h7l1 -1h12l1 1h10l1 1l1 -1h7l1 1h2l1 -1h2l1 -1h8l1 1h7l1 1h4l1 -1h4l1 -8l1 -9h18" stroke="#c07030"/>
<path d="M20 509h1l1 1h2l1 -1h3l1 -1l1 -2l1 -2h17l1 1h2l1 2h6l1 -1h3l1 1l1 -2h2l1 -1l1 1l1 1h1l1 1h7l1 1h13l1 -1h1l1 -1h3l1 -1h1l1 -1h1l1 -1l1 -1l1 -1h1l1 -2h1l1 -1l1 -1h2l1 3h1l1 4l1 5l1 -1h5l1 1h1l1 1h14l1 1h1l1 -1h4l1 -1h5l1 1h6l1 -1h10l1 -1l1 -1h3l1 1h3l1 -1h15l1 1l1 1h4l1 1l1 -2h4l1 -1h11l1 1h10l1 -2h4l1 1h4l1 -2h25l1 1h2l1 1h1l1 2h9l1 -1l1 1h7l1 1h15l1 -1l1 -1h3l1 -2h13l1 1h5l1 -1h3l1 2h4l1 1h1l1 -1h4l1 1h11l1 1h7l1 -1l1 1h1l1 1h4l1 -1h3l1 -1h1l1 1h16l1 -1h8l1 -2h4l1 -1l1 -2l1 -1h15l1 1h9l1 2l1 1l1 1l1 1h2l1 1h21l1 -2l1 -1l1 -2h6l1 -1h4l1 1h2l1 1h1l1 1h1l1 1l1 1h4l1 1h2l1 -1h5l1 1h2l1 -1h3l1 1h5l1 1h4l1 1l1 -1h4l1 -3h6l1 2h8l1 1h1l1 1h1l1 -1h2l1 1l1 1h2l1 -1h2l1 -30h6l1 -1h27l1 1l1 1l1 1l1 1l1 1l1 1h1l1 2l1 1l1 1l1 2l1 1l1 1h2l1 1h4M616 511h1l1 1h25l1 1h1l1 2l1 -3h4l1 -1h31l1 1h10l1 -1h3l1 2h2l1 -1h2l1 -1h1l1 1l1 -1l1 1h3l1 -1h5l1 -1h10l1 1h3l1 -1h1l1 1h10l1 -1h1l1 -1l1 1l1 -2l1 -1h3l1 -1l1 2h7l1 -1h7l1 -1h21l1 -1h25l1 1h25l1 -1h23l1 -1h3l1 1h3l1 1h17l1 -1l1 1l1 1h10l1 -1h3l1 -1h16l1 1h11l1 -1h3l1 1l1 -1h2l1 1h5l1 -1h16l1 1h4l1 -1h4l1 -8l1 -8h18" stroke="#d86030"/>
<path d="M20 509h4l1 -1h2l1 1l1 -2l1 -2l1 -2h14l1 1h2l1 1h1l1 1h10l1 -1l1 1h2l1 -1h1l1 1h2l1 1h3l1 1h3l1 1l1 1l1 -1h11l1 -1h7l1 -1h1l1 -1l1 -1l1 -1l1 -1l1 -1l1 -1h1l1 -1h4l1 4l1 5h2l1 -1h1l1 1h1l1 1h1l1 1h5l1 -1h3l1 1h11l1 -1h23l1 -1l1 -1h3l1 1h3l1 -1h15l1 1h1l1 1h4l1 -1h4l1 -1h1l1 1h9l1 1h7l1 -1h2l1 -1h9l1 -2h6l1 -1h15l1 1h7l1 2h18l1 1h7l1 -1h4l1 1h2l1 -1l1 -1h2l1 1l1 -2h19l1 -1h3l1 1h4l1 2h1l1 -2h3l1 1h2l1 1h5l1 1h12l1 1h10l1 -1h9l1 1h8l1 -1h2l1 1h5l1 -2h4l1 -1l1 -1l1 -1l1 -1h8l1 1h9l1 -2h5l1 2l1 1l1 2l1 1h1l1 -1l1 1h21l1 -2l1 -1l1 -2h6l1 -1h7l1 2h2l1 1l1 1l1 1h12l1 1h10l1 -1h2l1 2h2l1 1h2l1 -1h4l1 -1h6l1 2h8l1 1l1 1h10l1 -1h1l1 -29h34l1 1l1 1l1 1l1 1h1l1 1l1 1l1 1l1 2l1 1l1 1l1 1l1 1l1 1h6M616 511h6l1 1h22l1 2h5l1 -1h32l1 1h2l1 -1h4l1 -1h5l1 1h2l1 -1h2l1 -1h3l1 2h4l1 1h4l1 -2h9l1 -1h4l1 -1h10l1 1h3l1 -1l1 1l1 -1l1 -2h4l1 1h11l1 -1h3l1 -1h21l1 -1h11l1 -1h3l1 1h15l1 -1h5l1 1h38l1 -1h3l1 1h2l1 1h3l1 -1h18l1 1h7l1 -1h2l1 1l1 -1h3l1 -1h12l1 1h25l1 -1h8l1 1h12l1 -1h4l1 -7l1 -8h6l1 -1h11" stroke="#a0522d"/>
<path d="M20 511h4l1 -1h3l1 -1l1 -2l1 -2h3l1 -1h13l1 1h2l1 1h5l1 -1h4l1 1l1 -1h4l1 1h2l1 1h5l1 1h13l1 1l1 -1h1l1 -1h4l1 1l1 -1l1 -1h1l1 -1l1 -1h1l1 -1l1 -1l1 -1h2l1 -1h2l1 4l1 5h2l1 -1h3l1 1h1l1 1h14l1 1h6l1 -1h23l1 -1l1 -1l1 1h2l1 1h3l1 -1h13l1 -1h1l1 1l1 1l1 1h4l1 -2h5l1 -1h4l1 1h5l1 2h10l1 -2h3l1 1h3l1 -1h1l1 -1h3l1 -1h21l1 1h4l1 2h10l1 -1h3l1 1h9l1 1h5l1 -1h3l1 -1h4l1 -3h19l1 -1h3l1 2h4l1 1h1l1 -2h2l1 1h2l1 1h2l1 1l1 -1h1l1 1h13l1 1h9l1 -1h22l1 1h5l1 -2h4l1 -1l1 -2l1 -1h19l1 -1h5l1 2l1 2l1 1l1 1l1 1l1 -1h1l1 1h6l1 1h12l1 -1l1 -2h1l1 -2h2l1 -1h3l1 -1h7l1 1h1l1 1l1 1l1 1h13l1 1h13l1 2h2l1 1h2l1 -1h4l1 -3h4l1 1h1l1 1h1l1 1h5l1 -1h1l1 1h3l1 1h6l1 1l1 1l1 -30h4l1 -1h29l1 1h1l1 1l1 1l1 1l1 1l1 1l1 1l1 1l1 1l1 2l1 1l1 1h2l1 1h3l1 1M616 512h29l1 2h5l1 -3h17l1 -1h5l1 1h7l1 1h4l1 -1h6l1 1h8l1 -1h3l1 1h9l1 -2h3l1 1h12l1 1h4l1 -1h7l1 -1l1 1l1 -1l1 -1h4l1 1h6l1 -1h5l1 -1h2l1 -1h4l1 1h10l1 -1h5l1 -1h4l1 -1h2l1 1h17l1 1h5l1 -1h1l1 1h18l1 -1h10l1 -1h10l1 1l1 -1h7l1 1h5l1 1h24l1 -1h3l1 -1h10l1 1h3l1 -1h1l1 1h25l1 -1h10l1 1h10l1 -1h1l1 1h2l1 -8l1 -8h6l1 1h11" stroke="#88d020"/>
<path d="M20 512h4l1 -1h3l1 -1l1 -2l1 -3h4l1 -1h11l1 1h2l1 1l1 1h1l1 -1h8l1 1h6l1 1h1l1 1h6l1 1h11l1 -1h1l1 -1h4l1 -1h3l1 -1h1l1 -1h1l1 -1l1 -2l1 -1l1 -1h5l1 4l1 5h2l1 -1h1l1 1l1 -1l1 1h1l1 1l1 1h4l1 -1h5l1 1h12l1 1h20l1 -1l1 -1h3l1 1h3l1 -1h14l1 -1l1 1l1 1l1 1h4l1 -2h5l1 -1h10l1 2h7l1 -1h2l1 -2h5l1 1l1 -1h2l1 -1h11l1 -1h18l1 3h3l1 1h14l1 1h15l1 -1l1 -1h1l1 1h1l1 -3h6l1 1h5l1 -1h6l1 -1h3l1 2h4l1 1h1l1 -1h4l1 1h2l1 1h1l1 -1l1 1h7l1 1h6l1 1h1l1 -1h4l1 -1l1 -1h2l1 -1h11l1 1h4l1 1h1l1 -1h6l1 1h1l1 -2h4l1 -1l1 -1l1 -1l1 -1h2l1 1h21l1 2l1 2l1 1l1 1l1 1l1 -1h8l1 1h13l1 -2l1 -1l1 -2h6l1 -1h7l1 1h1l1 1l1 1l1 1h2l1 1h2l1 -2h7l1 1h13l1 2h5l1 -1h4l1 -2h6l1 2h8l1 1l1 1h5l1 1h6l1 -30h2l1 1h1l1 -1h9l1 -1h7l1 1h2l1 -1h8l1 1l1 1l1 1l1 1h1l1 1l1 1l1 1l1 1l1 1l1 2l1 1l1 1h4l1 1h2M616 512h5l1 1h1l1 -1h6l1 -1h2l1 1h11l1 1h5l1 -2h5l1 1h1l1 -1h6l1 2h8l1 1h19l1 2h2l1 1h2l1 -1h2l1 -2h3l1 1h9l1 -2h27l1 -1h1l1 -1l1 1l1 -1l1 -1h1l1 -2h2l1 1h6l1 -1h7l1 1l1 -1h2l1 -1h2l1 1h1l1 -1h13l1 -1h28l1 1h2l1 -1h35l1 -1h15l1 1h27l1 1h2l1 -1h3l1 -1h3l1 -1h6l1 1h5l1 1h25l1 -1h8l1 1h1l1 1h10l1 -1h4l1 -7l1 -8h18" stroke="#e8503a"/>
<path d="M20 512h4l1 -1h3l1 -1l1 -2l1 -3h16l1 1l1 1h2l1 1h3l1 -1h6l1 1l1 -1h4l1 1h2l1 1h6l1 1l1 1h1l1 -1h8l1 -1h1l1 -1h7l1 -1h1l1 -1h1l1 -1h1l1 -2l1 -1h1l1 -1h4l1 4l1 5h2l1 -1h3l1 2l1 -1l1 1l1 1h4l1 -1h5l1 1h16l1 -1h11l1 1h4l1 -1l1 -1h13l1 -1h9l1 1l1 1l1 1h4l1 -2h1l1 1h1l1 1l1 -1l1 -1l1 1h9l1 1h10l1 -2h9l1 -2h18l1 -1h9l1 1h1l1 2h4l1 -2h5l1 1h7l1 1h16l1 -1h3l1 -2h19l1 -1h3l1 2h4l1 1h1l1 -2h2l1 1h3l1 1h7l1 1h10l1 1h2l1 1h3l1 -1h2l1 -1h1l1 1h12l1 -1h4l1 -1h3l1 1h4l1 -3h4l1 -1l1 -2l1 -1h1l1 1h5l1 1h11l1 -2h5l1 2l1 2l1 1l1 1l1 1l1 -1h8l1 1h13l1 -2l1 -1l1 -2h6l1 -2h7l1 2l1 2l1 1h1l1 1l1 1h12l1 1h4l1 -1h8l1 2h5l1 -1h4l1 -3h3l1 1h2l1 2h3l1 1h4l1 1l1 1h4l1 1h1l1 -2h5l1 -30h4l1 -1h17l1 1h8l1 -1h2l1 1l1 1l1 1l1 1l1 1l1 1l1 1l1 1l1 2l1 1l1 1l1 1l1 1h1l1 1h5M616 512h29l1 2h5l1 -2h7l1 1h16l1 1h6l1 1h3l1 -3h10l1 2h2l1 -1h2l1 -1h3l1 1h3l1 -2h5l1 -2h15l1 1h4l1 1h8l1 -1l1 1l1 -1l1 -1h4l1 1h13l1 -1h1l1 -1h15l1 -1h4l1 -1l1 -1h11l1 1h6l1 1h8l1 -1h3l1 -1h2l1 1h48l1 1l1 -1h8l1 -1h8l1 1h7l1 1h3l1 -1h3l1 -1h16l1 1h10l1 1l1 -1h3l1 1h9l1 -2h5l1 1h4l1 1h15l1 -6l1 -8h18" stroke="#e04848"/>
<path d="M20 507h8l1 -1l1 -2l1 -2h4l1 1h12l1 1h1l1 1h14l1 -1h1l1 1h2l1 1h7l1 1h4l1 -1h4l1 -1h6l1 -1h5l1 -2l1 -1l1 -1h1l1 -1l1 -1l1 -1h1l1 -1h4l1 5l1 4h6l1 1h16l1 1h30l1 -1l1 -1h13l1 -1h10l1 1h4l1 1l1 -1h5l1 -1l1 1h9l1 1h10l1 -1h9l1 -1h29l1 -1l1 2h18l1 1h3l1 -1h11l1 -1l1 -1h3l1 -1h19l1 -1h1l1 1h1l1 1h4l1 1h1l1 -1h3l1 1h1l1 2h1l1 1h1l1 -1l1 1h14l1 1h8l1 -1h20l1 -1h3l1 1h4l1 -1h4l1 -2l1 -1l1 -1h2l1 -1h22l1 2l1 1l1 2h25l1 -2l1 -1l1 -1h6l1 -1h7l1 1h1l1 1h1l1 1l1 1h1l1 1h16l1 -2h4l1 1h2l1 1h3l1 1h1l1 -1h4l1 -1h6l1 1h9l1 1h1l1 -1h10l1 -29h4l1 -1h13l1 -1h15l1 1l1 1l1 1l1 1l1 1h1l1 1l1 3l1 1l1 1l1 2l1 1l1 1h6l1 1M616 508h3l1 1h6l1 -1h18l1 1h5l1 -1h3l1 1h36l1 -1h1l1 -1h3l1 1h2l1 -1h2l1 1h3l1 1h9l1 -2h21l1 1h7l1 -1h1l1 -1l1 -1h20l1 -1h3l1 1h3l1 -1h9l1 1h1l1 -1h30l1 1h2l1 -1h38l1 -1h4l1 -1h7l1 1h4l1 1h22l1 1h2l1 -1h3l1 -1h16l1 1h22l1 -1h2l1 -1h8l1 1h17l1 -11l1 -10h4l1 1h11l1 -1h1" stroke="#d08040"/>
<path d="M20 501h8l1 -2l1 -1l1 -2h5l1 1h11l1 1h1l1 1h18l1 1h9l1 1h2l1 -1h17l1 -1h1l1 -1l1 -1l1 -1h1l1 -1l1 -1h1l1 -1h4l1 5l1 4h4l1 -1h8l1 1h3l1 1h16l1 -1h7l1 1h2l1 -2h8l1 -1l1 -1h3l1 1h10l1 1h13l1 2h6l1 -1h11l1 1h10l1 -1h16l1 -1h21l1 1h4l1 -2h18l1 1h12l1 -1h4l1 -1h17l1 -2h10l1 1h1l1 -1h2l1 1h3l1 1h17l1 1h10l1 -1h12l1 1h15l1 -1h4l1 -1h1l1 -1h21l1 1h3l1 1l1 1l1 2h25l1 -2l1 -1l1 -1l1 -1h15l1 1h1l1 1l1 1h26l1 1h10l1 -1h11l1 1h3l1 -2l1 -1l1 -1h11l1 -29h31l1 -1h2l1 1l1 1h1l1 1l1 1l1 1l1 1l1 1l1 1l1 2l1 1l1 1l1 2h7M616 502h7l1 1h13l1 -1h4l1 1h10l1 1h4l1 1h18l1 -1h6l1 -1h7l1 -1l1 -1h11l1 1l1 1h11l1 -1h30l1 -1l1 -1h3l1 -1h9l1 1h2l1 1h21l1 -1h8l1 1h27l1 -1l1 1h40l1 -1l1 -1l1 -1h3l1 1h4l1 1h9l1 1h28l1 -1h22l1 1h10l1 -1h1l1 -1h28l1 -15l1 -12h18" stroke="#803060"/>
<path d="M20 498h8l1 -4l1 -5l1 -5h10l1 -2h3l1 1l1 1l1 2l1 2l1 1l1 2l1 1h10l1 -1l1 -1h1l1 -1l1 -1h1l1 1l1 1l1 1l1 1l1 1h1l1 1h3l1 1h4l1 -1l1 1l1 -1h3l1 -1h1l1 1h2l1 -1h2l1 -1h1l1 -1l1 -1l1 -1l1 -1l1 -1l1 -2l1 -1l1 -2l1 -1l1 -1l1 -1h1l1 -1h2l1 10l1 10h54l1 -1l1 -1l1 -1h19l1 1h6l1 1h21l1 1h46l1 -1h6l1 1h1l1 -1h3l1 -1h24l1 -4l1 -4l1 -3h8l1 1h6l1 -2h5l1 1h2l1 1h2l1 1l1 1h2l1 1h2l1 1h1l1 1h1l1 1l1 1h1l1 1l1 1h1l1 1h1l1 -1h6l1 1h21l1 1h5l1 1h3l1 -1h17l1 -5l1 -4l1 -4h5l1 1h7l1 1h1l1 -1h7l1 1h1l1 4l1 3l1 4h6l1 -1h11l1 2h6l1 -5l1 -5l1 -4h6l1 1h8l1 -1l1 3l1 2l1 2l1 3l1 1h3l1 1h5l1 2h7l1 -2h13l1 1h9l1 -1h10l1 -2l1 -2h1l1 -1h2l1 -1h7l1 -28l1 1h19l1 -1h13l1 1l1 1h1l1 1l1 1l1 1l1 1l1 1l1 1l1 2l1 1l1 1l1 2h7M616 498h2l1 -1h3l1 1h1l1 1h1l1 -1h2l1 -1h21l1 1h24l1 1h8l1 1h6l1 -1l1 -1l1 -1h9l1 1l1 1l1 1h4l1 -1h1l1 -1h10l1 1h6l1 -1h7l1 1h4l1 1h3l1 -1l1 -1l1 -1h3l1 -2h3l1 1h4l1 -1h3l1 1h9l1 1h9l1 1h9l1 -2h7l1 1h6l1 1h4l1 -1h4l1 1h11l1 -1h1l1 1h12l1 1h11l1 1h6l1 -4l1 -3l1 -3h2l1 1h2l1 1h1l1 1h1l1 2l1 2l1 1l1 1l1 1h3l1 -1h6l1 -1h6l1 -1h15l1 2h34l1 -1h9l1 -2h13l1 1h5l1 -18l1 -13h6l1 1l1 -1h6l1 1h3" stroke="#e0402c"/>
<path d="M20 497h2l1 -1h5l1 -3l1 -4l1 -4h14l1 1l1 1l1 1l1 2l1 1l1 2l1 1h4l1 -1h2l1 1h2l1 -1h1l1 -1h1l1 -1h1l1 1l1 1l1 1h3l1 1h14l1 -1h6l1 -1h1l1 1h1l1 -1l1 -1l1 -1l1 -2l1 -1h1l1 -1l1 -1l1 -1l1 -1h1l1 -1h2l1 9l1 8h5l1 -1h44l1 -1h2l1 1l1 -1l1 -1l1 1h72l1 -1h25l1 2h34l1 -3l1 -3l1 -3l1 1h1l1 -1h10l1 1h8l1 1h3l1 -1l1 1h3l1 1h3l1 1h2l1 1h1l1 1h1l1 1h1l1 1h2l1 -1h55l1 -3l1 -4l1 -3h4l1 1h4l1 1h14l1 1l1 2l1 3l1 2h8l1 1h16l1 -4l1 -3l1 -4h3l1 1h3l1 1h8l1 2l1 1l1 2l1 2l1 1h6l1 1h5l1 -1h17l1 2h12l1 -1h1l1 -1h6l1 -2l1 -2h5l1 -1h6l1 -28h1l1 1h27l1 -1h4l1 1h1l1 1l1 1l1 1l1 1l1 1l1 1l1 2l1 1l1 1l1 2l1 1h2l1 -1h4M616 499h7l1 1h56l1 -1h11l1 -1l1 -1l1 -1h9l1 1l1 1l1 1h16l1 1h12l1 1h10l1 -1l1 -1h1l1 -1l1 -1h9l1 1h21l1 1h34l1 1h8l1 -1h22l1 -1h6l1 1h8l1 1h1l1 -3l1 -3l1 -3h2l1 1h2l1 1h2l1 1h1l1 1l1 1l1 1l1 1h4l1 1l1 1h41l1 -1h19l1 -1h1l1 -1h28l1 -18l1 -13l1 1h17" stroke="#e8583a"/>
<path d="M20 496h8l1 -2l1 -3l1 -3h4l1 1h11l1 2l1 1l1 1l1 1l1 1h3l1 1h2l1 -1h2l1 1l1 -1h1l1 -1h1l1 -1l1 1h3l1 1h2l1 1h1l1 -1h6l1 2h2l1 -1h10l1 -1h2l1 -1l1 -1l1 -1l1 -1l1 -1l1 -1l1 -1l1 -1l1 -1h5l1 7l1 6h3l1 1h12l1 -1h13l1 1h15l1 -1h7l1 -1l1 -1h11l1 1h23l1 -1h18l1 -1h21l1 1h26l1 1h30l1 -2l1 -2l1 -3h5l1 1h16l1 1h1l1 1h12l1 1h1l1 1h1l1 1h3l1 1h16l1 -1h28l1 1h1l1 -1h9l1 -2l1 -3l1 -2h9l1 2h15l1 3l1 2l1 2l1 -1h16l1 -1h7l1 -2l1 -3l1 -2h4l1 1h5l1 1h2l1 -2h2l1 2l1 1l1 1l1 2h3l1 1h5l1 2h19l1 -1h4l1 -1h8l1 -1h9l1 -2l1 -2h12l1 -28h1l1 1h14l1 -1h17l1 1l1 1l1 1l1 1h1l1 1l1 1l1 2l1 1l1 2l1 1l1 1l1 2h7M616 501h16l1 -1h42l1 1h11l1 -1h4l1 -1l1 -1l1 -1h9l1 1l1 1l1 1h27l1 -1h2l1 -1h10l1 -1l1 -1h1l1 -1h5l1 2h9l1 1h6l1 -1h2l1 1h7l1 1l1 -1h2l1 1h3l1 -1h21l1 1h29l1 -1h7l1 -1h9l1 1h4l1 -2l1 -2l1 -2h2l1 1h3l1 1h2l1 1l1 1h3l1 1h2l1 1h39l1 1h13l1 -1h10l1 -1h12l1 1h9l1 -1h6l1 -18l1 -13l1 1h16l1 1" stroke="#c83c6c"/>
<path d="M20 513h8l1 -2l1 -2l1 -3h16l1 1l1 1h2l1 1h4l1 -1h5l1 1h2l1 -1h1l1 1h2l1 1h3l1 1h2l1 -1l1 1h8l1 -1h4l1 -1h1l1 -1h5l1 -1h1l1 -1h1l1 -1l1 -1l1 -1l1 -1h1l1 -1h4l1 5l1 4h6l1 1h1l1 1h2l1 1h1l1 -1l1 -1h1l1 1l1 -1h2l1 1h2l1 1h6l1 -1h23l1 -1l1 -1h3l1 1l1 -1h4l1 -1h5l1 1h6l1 -1l1 1l1 1l1 1h4l1 -2h3l1 2l1 -1l1 -1l1 1h2l1 -1h1l1 1h4l1 1h3l1 -1h6l1 -2h9l1 -1h13l1 1h4l1 -1h7l1 -1h3l1 3h10l1 1h4l1 -1h2l1 1h5l1 1h9l1 -1l1 -1h3l1 -2h19l1 -2h3l1 3h4l1 1h1l1 -1h4l1 1h2l1 1h1l1 -1l1 1l1 -1h2l1 1h2l1 -1h7l1 1h8l1 -1h4l1 1h6l1 1h6l1 -1h1l1 -1h3l1 1h4l1 -2h4l1 -2l1 -1l1 -1l1 -1h9l1 1h11l1 -1h1l1 1l1 1l1 2l1 2l1 1h1l1 -1l1 1h21l1 -2h1l1 -2h6l1 -2h7l1 2h1l1 1l1 1h1l1 1h12l1 1h13l1 2h5l1 -1h4l1 -2h6l1 2h3l1 1h4l1 1l1 1h4l1 1h7l1 -30h4l1 -1h3l1 -1h25l1 1l1 1l1 1h1l1 1l1 1l1 1l1 1l1 1l1 2l1 1l1 1l1 1h3l1 1h3M616 514h17l1 1l1 -1h5l1 -1h4l1 1h5l1 -1h23l1 1h12l1 1h3l1 -2h5l1 1h2l1 -1l1 1h5l1 1h9l1 -2h14l1 -1h1l1 1h12l1 -1l1 1l1 -1l1 -1h2l1 -1h1l1 2l1 -1h3l1 -1h10l1 -1h18l1 -1h2l1 -1h6l1 -1l1 1h3l1 -1h32l1 1h2l1 -1h22l1 1h12l1 1h1l1 -1h20l1 1h7l1 -1h3l1 -1h4l1 -1h4l1 1h4l1 1h1l1 1h13l1 -1h1l1 1h1l1 -1h7l1 -1h1l1 1h5l1 -1l1 1l1 1l1 2l1 1l1 1h1l1 1h1l1 1h4l1 -1h4l1 -13l1 -8h9l1 -1h3l1 1h4" stroke="#c05050"/>
<path d="M20 512h4l1 -1h3l1 -1l1 -2l1 -3h8l1 1h7l1 1h1l1 1h1l1 1l1 -1h5l1 1h6l1 -2h1l1 1h2l1 1h2l1 1h1l1 1h3l1 1h4l1 -1h7l1 -1h1l1 -1h5l1 -1h1l1 1l1 -1h1l1 -1l1 -2h1l1 -1h3l1 -1h1l1 4l1 5h2l1 -1h1l1 1h1l1 1l1 -1l1 1h5l1 -1h1l1 1h6l1 1l1 -1h24l1 -1h4l1 -1l1 -1h23l1 1l1 1l1 1h4l1 -2h4l1 -1l1 -1l1 1h9l1 1h10l1 -2h9l1 -2h7l1 1h21l1 1l1 2h10l1 1h3l1 -1h3l1 1h16l1 -1h3l1 -3h6l1 1h12l1 -2h3l1 2h4l1 1h1l1 -1l1 -1h3l1 1h2l1 1h1l1 -1l1 1h11l1 1h2l1 1h9l1 -1h10l1 1l1 -1h4l1 1h2l1 -1h3l1 1l1 -1h3l1 -2h4l1 -1l1 -1l1 -2h25l1 2l1 1l1 2l1 1h1l1 -1l1 1h2l1 -1h1l1 1h6l1 -1h9l1 -2h1l1 -2l1 1h5l1 -2h7l1 2h1l1 1l1 1h1l1 1h12l1 1h13l1 2h7l1 -1h2l1 -2l1 -1l1 1h4l1 2l1 -1h5l1 1h1l1 1l1 1h1l1 1h5l1 1h2l1 -1h1l1 -31h4l1 -1h3l1 1h9l1 1h15l1 1h1l1 1l1 1l1 1l1 1l1 1l1 1l1 1l1 2l1 1l1 1l1 1h2l1 1h4M616 514h29l1 2h1l1 -2h3l1 -1h4l1 1h22l1 -1h3l1 1h14l1 1h2l1 -1h2l1 -1h3l1 1h9l1 -2h14l1 1h1l1 1h10l1 -1h1l1 -1l1 1l1 -2l1 -1h4l1 1h12l1 -1h2l1 -1h7l1 -1h2l1 1l1 -1h6l1 -1l1 1h1l1 -1l1 -1h22l1 1h7l1 -1l1 1h2l1 -2h12l1 1h19l1 1h9l1 -1h4l1 2h1l1 -1h16l1 1h8l1 1h2l1 -1h3l1 -1h3l1 -1h1l1 1h10l1 1h11l1 -1h3l1 -1h3l1 1h5l1 -2h6l1 1h1l1 1l1 1l1 1l1 1h1l1 1h2l1 1h4l1 -1h4l1 -11l1 -8h3l1 1h11l1 -1h2" stroke="#e0402c"/>
<path d="M20 517l1 -1h2l1 -1h4l1 -1h1l1 1h8l1 1h4l1 1h11l1 1h15l1 -1h5l1 1h5l1 -1h21l1 1h14l1 -1h28l1 1h16l1 1l1 -1h10l1 1h6l1 -2h13l1 -1h4l1 1h40l1 1h1l1 1h1l1 -1h39l1 -1h11l1 -1l1 -1h5l1 1l1 -1h14l1 -1h19l1 1h20l1 1h10l1 1h3l1 -1h4l1 1h15l1 -1h6l1 1h6l1 1h32l1 -1h16l1 1h16l1 -1h6l1 -1h12l1 1h5l1 1h4l1 1l1 -1h7l1 -1h5l1 -1h4l1 1l1 -1h1l1 -1h1l1 -1h2l1 -1h1l1 -1h4l1 -1l1 -1h7l1 -26h27l1 1h13l1 2l1 1l1 1l1 1l1 1h1l1 1l1 1l1 1l1 1l1 1l1 1l1 1M616 513h2l1 -1h11l1 -2h4l1 2h11l1 -1h9l1 1h22l1 1h25l1 1h12l1 -1h30l1 -1h7l1 -1h3l1 -1h12l1 -1h9l1 -1h13l1 -1h1l1 1h21l1 -1h20l1 1h40l1 1h27l1 -2h8l1 1h28l1 -1h9l1 1h15l1 -2h5l1 -8l1 -8h18" stroke="#8a8440"/>
<path d="M20 487h8l1 -1l1 -2l1 -2h14l1 2h4l1 -1h9l1 1h1l1 1h7l1 1l1 2l1 1l1 1l1 1l1 1l1 -1h3l1 -1h3l1 -1h3l1 -1h1l1 -1l1 -1l1 -1h1l1 -1h2l1 -2h2l1 -1h2l1 -1h3l1 -1h4l1 2h1l1 10h12l1 1h6l1 1l1 -1h1l1 2l1 -1l1 -1h3l1 -1h6l1 -1h9l1 1l1 1h1l1 1l1 1l1 1h4l1 -5l1 -5l1 -1h6l1 1h2l1 -2h7l1 -1h1l1 1h1l1 4l1 4l1 5h2l1 -1h2l1 1h2l1 -3l1 -3l1 -4l1 -3h19l1 -1h32l1 1h4l1 1h4l1 1h5l1 1h4l1 1h6l1 1h4l1 1h1l1 1h3l1 1h3l1 1h1l1 -4l1 -14l1 1l1 4l1 1h10l1 1l1 -1h4l1 -1l1 -1h9l1 1h7l1 -1h3l1 1h1l1 1l1 1l1 1h1l1 1h1l1 1h1l1 1h1l1 1h1l1 1h2l1 1h3l1 1h13l1 1l1 1l1 1h1l1 -1l1 -1h1l1 -1l1 -2l1 -2l1 -2l1 -2l1 1h1l1 1h1l1 1h3l1 1l1 1h1l1 1l1 1h1l1 -1l1 -1l1 -1l1 -2l1 -1h1l1 -1l1 -1l1 -1h10l1 -1h8l1 1h6l1 -1h3l1 1l1 1l1 1h1l1 1l1 1h1l1 1l1 1l1 1h1l1 1l1 1h1l1 1l1 -1h1l1 -1l1 -1h1l1 -2l1 -2l1 -1l1 -2h4l1 -1h2l1 -1h7l1 -1h3l1 -1h5l1 1l1 -1h1l1 1h1l1 1h1l1 2l1 1h10l1 1h2l1 1h4l1 1l1 2l1 1l1 1h1l1 1h6l1 1h1l1 1h1l1 1l1 3l1 4h2l1 -9h10l1 -26h2l1 1h7l1 1h8l1 -1h1l1 -1h1l1 -1h1l1 -1h1l1 -1l1 -1l1 1l1 1h1l1 1l1 1l1 1l1 1h1l1 1h1l1 1l1 1h3l1 4l1 3l1 3l1 1h1l1 -1h2l1 1h1M616 494h16l1 1h1l1 2l1 2l1 2l1 -3l1 -2l1 -2l1 -1l1 -1l1 -2h15l1 1l1 1h1l1 1l1 1l1 1l1 1l1 1h1l1 1l1 -1l1 1l1 -1l1 -1l1 -1l1 -1h1l1 -1l1 -1h1l1 -1h1l1 -1h1l1 -1h1l1 -1h1l1 -1h3l1 -1h1l1 -1h1l1 -1h2l1 -3h6l1 5l1 4h4l1 4l1 4h6l1 1h4l1 -1h1l1 -1h1l1 -1l1 -1h1l1 -1h2l1 -1h1l1 -1h1l1 -1h2l1 -1h5l1 1h2l1 10l1 1h1l1 -2l1 -4l1 -3h3l1 1h8l1 1h3l1 2h4l1 1h2l1 -1l1 1h4l1 1h4l1 1h6l1 2h8l1 -3h15l1 -1h5l1 2h21l1 1h17l1 -1l1 -2l1 -1h2l1 1h7l1 1h4l1 1h23l1 1h4l1 -1h18l1 2h10l1 -1h5l1 -1l1 -1l1 1h23l1 -1h5l1 -17l1 -13h4l1 1h8l1 1h4" stroke="#8a7a20"/>
<path d="M20 487h5l1 -1h3l1 -3l1 -2h1l1 2h24l1 1h6l1 1h2l1 1h2l1 2l1 1l1 1l1 1l1 1l1 1h2l1 -1h1l1 -1h1l1 -1h1l1 -1l1 -1l1 -1h1l1 -1l1 -1l1 1l1 -1l1 -1h6l1 -1h2l1 -1h2l1 -1l1 1l1 -1h6l1 10h4M251 484h13l1 1h3l1 1h1l1 -1l1 1h5l1 1l1 -1h2l1 1h4l1 1h3l1 1h4l1 1h1l1 1h2l1 1h4l1 1h1l1 -14h9l1 1h3l1 -1l1 1l1 -1h17l1 -1h3l1 -1h1l1 1h2l1 1l1 1l1 1h1l1 1l1 1l1 1h1l1 1l1 1h1l1 1h1l1 1h2l1 1l1 2h8l1 1h5l1 1h1l1 -2l1 1l1 1l1 1l1 -1l1 -2l1 -1l1 -1h1l1 -2l1 -2l1 -2l1 -2h2l1 1h1l1 1h1l1 1h1l1 1h1l1 1l1 1h1l1 1l1 -1l1 -1l1 -1l1 -1l1 -1l1 -1h1l1 -1" stroke="#906060"/>
<path d="M20 486h8l1 -1l1 -2l1 -2h9l1 1h10l1 -1h1l1 1h8l1 1h4l1 1h2l1 1l1 1l1 1l1 1l1 1l1 2l1 -1h2l1 -1h2l1 -1l1 -1h1l1 -1h1l1 -1l1 -1h2l1 -1h2l1 -1h4l1 -1h3l1 -1h2l1 -1h2l1 -1h1l1 1h2l1 10h11l1 1h1l1 -1h5l1 1h2l1 2l1 -1l1 -1h13l1 -1h7l1 1h1l1 1h1l1 1h4l1 -5l1 -5l1 -1l1 1h12l1 -1h3l1 1h1l1 -1h1l1 4l1 5l1 4h5l1 1h2l1 -3l1 -3l1 -3l1 -3h4l1 -1h52l1 1h1l1 1h2l1 1h7l1 1h7l1 1h3l1 1h4l1 1h5l1 1h4l1 -13h16l1 -1h25l1 1l1 1l1 1h1l1 1l1 1l1 1h1l1 1h1l1 1h1l1 1h1l1 1h1l1 1h1l1 -1h15l1 1l1 1l1 1l1 1l1 -1h1l1 -1l1 -1h1l1 -2l1 -3l1 -2l1 -2l1 1h1l1 1h2l1 1l1 1h1l1 1h1l1 1l1 1h1l1 1l1 -1l1 -1l1 -1l1 -1l1 -1l1 -1l1 -1h1l1 -1h5l1 -1h23l1 1h1l1 1h1l1 1l1 1h1l1 2h1l1 1h1l1 1l1 1h1l1 1h1l1 -1h1l1 -1l1 -1h1l1 -1l1 -2l1 -2l1 -2h9l1 -1h1l1 1h1l1 -1h6l1 -1h3l1 -1h3l1 1h1l1 1h1l1 2l1 1h6l1 1h11l1 2l1 1l1 2l1 1h2l1 1h10l1 4l1 4h2l1 -9h10l1 -25h3l1 1h6l1 1h7l1 -1h2l1 -1h2l1 -1l1 -1h2l1 1l1 1h1l1 1l1 1h1l1 1l1 1l1 1h4l1 1h2l1 3l1 4l1 3h1l1 1h5M616 493h7l1 1l1 -1h6l1 1h2l1 2l1 2l1 1l1 -2l1 -2l1 -3l1 -1l1 -1l1 -2h1l1 1h1l1 -1h5l1 1h6l1 1l1 1l1 1h1l1 1l1 1l1 1l1 2l1 1l1 -1l1 -2l1 -1l1 -1h1l1 -1l1 -1h1l1 -1h1l1 -1h2l1 -1h1l1 -1h1l1 -1h1l1 -1h1l1 -1h1l1 -1h2l1 -1h1l1 -1h7l1 5l1 4h4l1 4l1 4h2l1 1h2l1 -1h3l1 1h1l1 -1l1 -1h2l1 -1l1 -1h1l1 -1h1l1 -1h2l1 -1h2l1 -1h1l1 -1h5l1 1h2l1 10h2l1 -3l1 -3l1 -4l1 1h1l1 -1l1 1h3l1 1h5l1 1h3l1 1h3l1 1h6l1 1h4l1 1h7l1 1l1 -1h1l1 1h32l1 1h5l1 -1h1l1 1h9l1 -1h13l1 1h3l1 -1l1 -2l1 -1h6l1 1h2l1 1h5l1 1h3l1 1h2l1 -1h16l1 1h6l1 -1h14l1 1h6l1 -1h10l1 -1h2l1 -1h9l1 -1h4l1 1h14l1 -17l1 -13h5l1 1h12" stroke="#000"/>
<path d="M20 528h77l1 -1h32l1 1h11l1 -1h3l1 1h15l1 -1h56l1 -1h14l1 -1h5l1 1h33l1 1h67l1 1h67l1 -1h102l1 1h22l1 2l1 1l1 2l1 2h1l1 1h2l1 13l1 13h1l1 1h5l1 1h6l1 -1h4l1 1h5l1 1h2l1 1h5l1 1h9l1 -1h7l1 -1h3l1 -1h3l1 -1h2l1 2h5l1 1l1 -32h18l1 -1h2l1 2h12l1 -1h62l1 -1h7l1 -1h2l1 -1h4l1 -1h3l1 -1h14l1 10l1 9h19l1 1h5l1 1h5l1 1h9l1 -1h2l1 -1h6l1 -1h34l1 1h19l1 1h22l1 1h10l1 1h21l1 1h5l1 -1h24l1 -1h16l1 -2h15l1 9l1 9h1l1 1h1l1 1h1l1 1h1l1 1h2l1 1h2l1 1h2l1 1h2l1 1h2l1 1h1" stroke="#70f010"/>
<path d="M20 530h1l1 -1h49l1 -1h84l1 1h3l1 -1h12l1 1h30l1 -1h25l1 -1h27l1 1h9l1 -1h49l1 1h40l1 1h98l1 -1h28l1 1h48l1 1l1 2l1 2l1 1l1 1h1l1 1h1l1 13l1 13h7l1 1h5l1 1h4l1 1h7l1 1h5l1 1h14l1 -1h1l1 -2h3l1 -1h3l1 -1h2l1 -1l1 1h8l1 -31h11l1 1h18l1 1h15l1 1h43l1 -1h3l1 1h9l1 -1l1 -1h3l1 -1h2l1 -1h3l1 -1h15l1 9l1 10h8l1 -1h13l1 1h5l1 1h3l1 1h7l1 -1h5l1 -1h12l1 -1h14l1 1h26l1 1h22l1 1h8l1 1h14l1 1h19l1 -2l1 -1h24l1 -1h3l1 1h14l1 -1h3l1 1h8l1 9l1 8l1 1h1l1 1h1l1 1h1l1 1l1 1l1 1h2l1 1h2l1 1h2l1 1h2l1 1h2l1 1" stroke="#66ff00"/>
<path d="M20 529h59l1 1h61l1 -1h20l1 -1h22l1 1h42l1 -2h14l1 1h114l1 1h7l1 -1h84l1 2h22l1 -1h30l1 1h21l1 -2h8l1 1l1 2l1 1l1 2h1l1 1h1l1 1l1 13l1 12l1 1h6l1 1h5l1 1h5l1 2h5l1 1h5l1 1h6l1 1l1 -1l1 1h2l1 -1h5l1 -1h3l1 -1h3l1 -1h2l1 -1l1 1h8l1 -31h6l1 1h20l1 1h11l1 1h6l1 -1h47l1 -1h9l1 -1h3l1 -1h2l1 -1h3l1 -1h16l1 9l1 10h1l1 -1h6l1 -1h3l1 1h12l1 1h5l1 1h8l1 -1h5l1 -1h10l1 -1h10l1 1h7l1 1h11l1 1h10l1 -1h25l1 1h17l1 1h16l1 1h4l1 -1h19l1 -1h12l1 -1h17l1 1h6l1 -1h2l1 8l1 9l1 1h1l1 1h1l1 1h1l1 1h2l1 1h2l1 1h2l1 3h2l1 1h2l1 1h2" stroke="#808020"/>
<path d="M20 530h5l1 -1h26l1 1h26l1 1h16l1 -1h27l1 2h44l1 -2h22l1 -1h15l1 1h64l1 -1h6l1 1h8l1 -2h9l1 1h4l1 1h8l1 1h45l1 -2h44l1 1h28l1 -1h25l1 1h26l1 1h19l1 -1h29l1 2l1 1l1 2l1 1l1 1h1l1 1h1l1 13l1 12l1 1h5l1 1h4l1 1h2l1 1h6l1 1h5l1 1h6l1 1h9l1 -1h7l1 -1h2l1 1l1 -1h2l1 -1h3l1 1h3l1 -2h1l1 1l1 -31h13l1 1h17l1 1h9l1 1h16l1 -2h18l1 1h16l1 -1h8l1 -1l1 1h2l1 -1h3l1 -2l1 -1h2l1 -1h16l1 9l1 9h31l1 1h4l1 1h1l1 -1h6l1 -1h2l1 -1h13l1 -1h5l1 1h18l1 1h6l1 -1h1l1 1h11l1 1h19l1 1h19l1 1h25l1 -1h8l1 1h6l1 -1h34l1 -1l1 9l1 8l1 1h1l1 1h1l1 1h1l1 1h2l1 1h2l1 1h4l1 1h2l1 1h2l1 1" stroke="#6b6b00"/>
<path d="M20 531h7l1 1h19l1 1h21l1 -1h60l1 -1h20l1 -1h29l1 1h81l1 -1h39l1 -1h2l1 1h12l1 1h33l1 -1h42l1 1h81l1 -1h12l1 1h44l1 2l1 2l1 1l1 2h1l1 1h1l1 1l1 13l1 11l1 1h7l1 1h5l1 1h6l1 1h5l1 1h6l1 1h1l1 -2l1 1h3l1 -1h6l1 -1h5l1 -1h3l1 -1h8l1 1h2l1 -30h3l1 2h20l1 1h1l1 -1h13l1 1h13l1 1h18l1 -2h11l1 -1h6l1 1h7l1 -1h5l1 -2h3l1 -1h3l1 -1h17l1 9l1 9h14l1 -1h10l1 1h5l1 1h8l1 -1h11l1 -1h28l1 2h25l1 -1h5l1 1h10l1 -1h9l1 1h14l1 1h11l1 2h6l1 -1h25l1 -1h26l1 -1h4l1 9l1 9h1l1 1h1l1 1h1l1 1h2l1 1h2l1 1h2l1 1h2l1 1h2l1 1h2l1 1" stroke="#a0a030"/>
<path d="M20 532h101l1 1h7l1 1h4l1 -1h28l1 -1h14l1 -1l1 1h23l1 -1h9l1 1h27l1 -1h21l1 -1h9l1 1h62l1 1h30l1 -2h36l1 2h70l1 -1h21l1 2h33l1 -1h4l1 1l1 2l1 2l1 1l1 1h2l1 1l1 13l1 11h1l1 1h5l1 1h10l1 1h5l1 1h6l1 1h5l1 1h2l1 -1h7l1 -1h5l1 -1h3l1 -1h8l1 1h2l1 -30h8l1 1h14l1 1h10l1 1h26l1 1h20l1 -1h2l1 -1h12l1 -1h6l1 -1h2l1 -1h1l1 -1h3l1 -1h1l1 1h15l1 8l1 9h6l1 1h3l1 -1h13l1 1h5l1 1h5l1 -1h4l1 -1h5l1 -1h12l1 -1h11l1 1h33l1 1h26l1 1h4l1 1h12l1 1h28l1 -1h18l1 -1h26l1 8l1 8l1 1h1l1 1h1l1 1h2l1 1h2l1 1h2l1 1h2l1 2h2l1 1h3l1 1" stroke="#88d020"/>
<path d="M20 533h83l1 1h7l1 1h17l1 -1h29l1 -1h54l1 1h4l1 -1h20l1 1h43l1 -1h55l1 1h24l1 1h5l1 -1h23l1 -1h28l1 1h9l1 -1h2l1 1h98l1 1l1 2l1 1l1 2h2l1 1h1l1 13l1 11h4l1 1h5l1 1h5l1 1h6l1 1h5l1 1l1 -2h2l1 1h11l1 -1h8l1 -1h2l1 -1h3l1 1h8l1 -28h19l1 1h31l1 1h32l1 1h6l1 -1h11l1 -1h3l1 -1h3l1 -1h2l1 -1h17l1 8l1 8h28l1 1h5l1 1h2l1 -1h5l1 -1h8l1 -1h1l1 1h9l1 -1h1l1 1h34l1 -2h14l1 1h7l1 2h9l1 1h21l1 1h9l1 -1h33l1 -1h25l1 7l1 9h1l1 1h1l1 1h1l1 1l1 1h2l1 1h2l1 1h4l1 1h2l1 1h2l1 1" stroke="#b8b040"/>
<path d="M20 536h6l1 -1h11l1 -1h14l1 1h26l1 -1h11l1 1h46l1 -1h67l1 1h9l1 -1h19l1 1h76l1 -1h28l1 1h35l1 1h34l1 -1h42l1 -1h15l1 1h3l1 -1h29l1 1h14l1 1h13l1 1l1 2l1 1l1 2h1l1 1h2l1 13l1 11h3l1 1h3l1 1h4l1 1h5l1 1h6l1 1h5l1 1h6l1 1h1l1 -1h6l1 -1h7l1 -1h2l1 -1h10l1 1l1 -28h18l1 -1h16l1 1h8l1 -1h2l1 1h39l1 -1l1 1h12l1 -1h4l1 -1h3l1 -1h5l1 -1h12l1 -1h2l1 8l1 8h9l1 -1h13l1 1h5l1 1h5l1 1l1 -1h5l1 -1h17l1 -1h23l1 1h15l1 -1h29l1 1h15l1 1h22l1 1h2l1 -1h39l1 -1h13l1 8l1 8l1 1h1l1 1h1l1 1h1l1 1h2l1 1h2l1 1h1l1 1h2l1 1h2l1 1h3" stroke="#f4a080"/>
<path d="M20 537h15l1 -1h46l1 1h100l1 -1h8l1 1h24l1 -1h9l1 -1h2l1 1h16l1 1h46l1 -1h34l1 -1h58l1 1h49l1 -1h97l1 2l1 2l1 1l1 2h2l1 1h1l1 13l1 10h1l1 1h3l1 1h5l1 1h2l1 1h5l1 1h5l1 1h4l1 1h2l1 -1l1 1h7l1 -1h6l1 -1h4l1 -1h3l1 -1h2l1 1h7l1 -27h16l1 1h19l1 1h14l1 -1h11l1 1h23l1 -1h1l1 -1h11l1 -1h4l1 -1h3l1 -1h4l1 -1h9l1 1h6l1 7l1 8h10l1 -1h16l1 1h5l1 1h7l1 -1h6l1 -1h15l1 -1l1 1h15l1 1h10l1 1h3l1 -1h17l1 1h26l1 1h2l1 -1h3l1 1h2l1 -1h8l1 1h3l1 -1h14l1 -1h17l1 1h28l1 8l1 7l1 1h1l1 1h1l1 1h1l1 2h3l1 1h2l1 1h2l1 1h2l1 1h2l1 1h1" stroke="#f08060"/>
<path d="M20 539h71l1 -1h24l1 -1h12l1 -1h22l1 1h19l1 1h5l1 -1h41l1 1h64l1 -1h2l1 1h5l1 -1h10l1 -1h3l1 1h111l1 1h7l1 -3h29l1 2h19l1 1h56l1 1l1 2l1 1l1 2h2l1 1h1l1 13l1 9l1 1h5l1 1h6l1 1h7l1 1h6l1 1h5l1 1h6l1 -1h7l1 -1h5l1 -1h3l1 -1h3l1 1h3l1 1h2l1 -26h4l1 -1h1l1 1h16l1 1h16l1 -1h16l1 1h6l1 -2h13l1 -1h3l1 1l1 -1h7l1 2h7l1 -1h5l1 -1h3l1 -1h6l1 -1h15l1 8l1 7h25l1 1h1l1 -1l1 1h5l1 1h2l1 -1h5l1 -1h12l1 -1h7l1 -1h32l1 1h22l1 1h24l1 1h25l1 1h6l1 -1h19l1 -1h27l1 7l1 8h1l1 1h1l1 1h1l1 1h2l1 1h2l1 1h2l1 1h2l1 1h3l1 1h2" stroke="#e8583a"/>
<path d="M20 538h10l1 2h29l1 1h4l1 -2h78l1 -2h13l1 1h20l1 -1h6l1 1h17l1 -1h12l1 1h13l1 -1h7l1 1h6l1 1h14l1 -1h4l1 1h11l1 -3h16l1 1h237l1 1h2l1 1l1 2l1 1l1 2h1l1 1h1l1 1l1 12l1 10h5l1 1h6l1 1h5l1 1h1l1 1h6l1 1h5l1 1h11l1 -1h6l1 -1h2l1 -1h2l1 -1h11l1 -26h7l1 1h20l1 1h18l1 1h13l1 1h15l1 -2h13l1 -1h11l1 -1h3l1 -1h3l1 -1h2l1 -1h17l1 7l1 7h26l1 1h5l1 1h7l1 -1h5l1 -1h11l1 -1h18l1 1h18l1 1h29l1 1h19l1 -1h14l1 1h1l1 -1h20l1 -1h4l1 2h19l1 -1h11l1 1h4l1 7l1 8h1l1 1h1l1 1l1 1l1 1h2l1 1h2l1 1h2l1 1h2l1 1h2l1 1h2l1 1" stroke="#e04030"/>
<path d="M20 540h14l1 -1h2l1 1h54l1 -1h52l1 1h31l1 -1h6l1 -1h13l1 1h114l1 -1h11l1 -1h3l1 1h58l1 -1h25l1 1h11l1 -1h5l1 1h7l1 -1h41l1 1h24l1 2h19l1 -1h8l1 2l1 1l1 2l1 1l1 1h2l1 1l1 13l1 8l1 1l1 1h6l1 1h5l1 1h6l1 1h5l1 1h6l1 1h6l1 -1h5l1 -1h5l1 -2h3l1 -1h2l1 -1l1 1h8l1 -25h16l1 1h7l1 1h12l1 1h21l1 -1h33l1 1h5l1 -1h5l1 -1h3l1 -1h4l1 -1h3l1 -2h8l1 1h4l1 7l1 6l1 1h24l1 1h9l1 1l1 -1h1l1 1h1l1 -1h4l1 -1h8l1 -1h4l1 -1h7l1 1h31l1 1h5l1 1h2l1 -3h3l1 1h25l1 1h21l1 1h4l1 -1h23l1 -1h16l1 1h3l1 -1h1l1 1h11l1 1h1l1 7l1 7l1 1h1l1 1h1l1 1h2l1 1h2l1 1h2l1 1l1 -1l1 1h3l1 1h2l1 1h1" stroke="#d86030"/>
<path d="M20 541h15l1 -1h12l1 1h16l1 -1h32l1 -1h13l1 1h33l1 1h4l1 -1h25l1 -1h17l1 1h68l1 -1h2l1 1h29l1 -1h92l1 1h11l1 -1h68l1 -1h4l1 1h20l1 1h10l1 1h7l1 -1h19l1 2l1 1l1 2l1 1h1l1 1h1l1 1l1 12l1 10h5l1 1h5l1 1h6l1 1h5l1 1h3l1 -1h2l1 1h5l1 1h2l1 -1h8l1 -1h5l1 -1h2l1 -1h8l1 1h2l1 -26l1 1h15l1 -1h5l1 1h20l1 1h27l1 1h16l1 -1h13l1 -1h3l1 -1h3l1 -1h3l1 -1h2l1 -1h14l1 7l1 7h9l1 -1h17l1 1h6l1 1h3l1 -1h5l1 -1h8l1 -1h8l1 -1h5l1 1h5l1 1h15l1 1h4l1 1h5l1 -1h3l1 1h14l1 -1h1l1 1h18l1 1h26l1 1l1 -1h29l1 -1h13l1 -1h3l1 1h2l1 -1h5l1 8l1 7h1l1 1h1l1 1h1l1 1h2l1 1h3l1 1h2l1 1h2l1 1h2l1 1h1l1 1" stroke="#c07030"/>
<path d="M20 541h27l1 1h2l1 -1h34l1 -1h43l1 1h47l1 -1h39l1 1h7l1 -1h43l1 1h30l1 -2h22l1 1h94l1 -1h64l1 1h18l1 -2h14l1 2h18l1 2l1 1l1 2l1 2h3l1 1l1 13l1 8l1 1h2l1 1h7l1 1h7l1 -1h1l1 1h5l1 1h7l1 1h7l1 -1h6l1 -1h4l1 -1h3l1 -1h4l1 1h2l1 -1h1l1 1l1 -25h5l1 3h14l1 1h57l1 -1h11l1 -1h4l1 -1h8l1 -1l1 2h2l1 -1h2l1 -1h3l1 -1h16l1 6l1 7h14l1 -2h9l1 1h6l1 1l1 -1h1l1 1h5l1 -1h5l1 -1h1l1 1h8l1 -1h1l1 1l1 -1h12l1 1h16l1 1h10l1 -1h3l1 1h8l1 -1h2l1 1h23l1 1h3l1 1h16l1 1l1 -1h10l1 -1h39l1 -1h11l1 7l1 7h1l1 1h1l1 1h1l1 1h1l1 1h3l1 1h2l1 1h2l1 1h2l1 1l1 -1l1 1h1" stroke="#c86428"/>
<path d="M20 541h158l1 -1h11l1 1h30l1 -1h33l1 1h49l1 1h12l1 -1h64l1 1h34l1 -1h117l1 2l1 1l1 2l1 1l1 1h3l1 13l1 8h2l1 1h6l1 1h3l1 1h6l1 1h5l1 1h6l1 1h11l1 -1h8l1 -1h3l1 -1h6l1 1h4l1 -24h31l1 1h5l1 1h14l1 1h1l1 -1h13l1 1h1l1 -2h4l1 1h8l1 -1h10l1 -1h8l1 -1h3l1 -1h2l1 -1h3l1 -1h7l1 1h8l1 6l1 6h27l1 1h5l1 1h4l1 -1h5l1 -1h8l1 -1h19l1 -2h35l1 1h3l1 1l1 1h24l1 1l1 -1h8l1 1h21l1 -1h5l1 1h23l1 -1h9l1 -1h11l1 1h2l1 7l1 7l1 1h1l1 1h1l1 1h2l1 1h2l1 1h2l1 1h2l1 1h2l1 1h1l1 -1h1l1 1" stroke="#a0522d"/>
<path d="M20 543h18l1 -1h5l1 1h25l1 -1h49l1 -1h2l1 1h10l1 1h26l1 -1h17l1 -1h70l1 1h2l1 -1h18l1 -1h9l1 2h8l1 -1h51l1 2h44l1 -2h29l1 1h39l1 -1h11l1 -1h37l1 1h27l1 1l1 2l1 1l1 2h2l1 1h1l1 13l1 8h5l1 1l1 1h5l1 1h5l1 1h6l1 1h6l1 1h16l1 -1h5l1 -1h3l1 -1h8l1 1h1l1 -24h10l1 1h16l1 1h26l1 1h16l1 1h3l1 -2h16l1 -1h3l1 -1h6l1 -1h3l1 -1h2l1 -1h3l1 -1h3l1 1h13l1 6l1 6h24l1 1h7l1 1h6l1 -1h4l1 -1h2l1 -1h11l1 -1h2l1 1h19l1 1h35l1 1h38l1 1h19l1 -1h3l1 1h18l1 -2h13l1 1h3l1 -1l1 1h6l1 6l1 7l1 1h1l1 1h1l1 1h1l1 1h1l1 1h2l1 1h2l1 1h3l1 1h2l1 1h2" stroke="#101060"/>
<path d="M20 545h17l1 -1h21l1 -1h40l1 -1h5l1 1h52l1 -1h19l1 -1h22l1 1h9l1 1h18l1 1h5l1 -1h44l1 -1h3l1 1h37l1 1h63l1 -2h37l1 1h52l1 -1h18l1 1h22l1 1h5l1 -1h8l1 1l1 2l1 1l1 1l1 1h1l1 1h1l1 13l1 7l1 1h6l1 1h5l1 1h4l1 1h5l1 1h5l1 1h6l1 1h3l1 -1h6l1 -1h5l1 -1h3l1 -1h9l1 1h1l1 -24h6l1 -1h3l1 1h19l1 1h48l1 1h6l1 -1h5l1 -1h10l1 -1h1l1 1l1 -1h3l1 -1h3l1 -1h16l1 -1l1 6l1 6h24l1 1h3l1 2h1l1 1h10l1 -1h5l1 -1h12l1 -1h13l1 -1h9l1 1h9l1 1h52l1 1h3l1 1h14l1 -1h24l1 -1h13l1 -1h3l1 -1h16l1 6l1 7l1 1h1l1 1h1l1 1h2l1 1h2l1 1h1l1 1l1 1h2l1 1h2l1 1h2l1 1h1" stroke="#302060"/>
<path d="M20 544h41l1 1h32l1 -1h20l1 1h50l1 -1h10l1 -1h20l1 -1h22l1 2h45l1 -1h15l1 1h22l1 -2h45l1 1h52l1 -1h18l1 2h54l1 -1h33l1 1h22l1 1l1 2l1 1l1 2h2l1 1h1l1 13l1 7h3l1 1h5l1 1h6l1 1h5l1 1h1l1 1h5l1 1h5l1 1h1l1 -2h5l1 -1h7l1 -1h3l1 -1h3l1 -1h2l1 1h6l1 -23h4l1 1h1l1 -1h11l1 1h11l1 1h11l1 1h41l1 -1l1 1h2l1 -1h1l1 1h3l1 -1h6l1 -1h3l1 -1h3l1 -1h3l1 -1h3l1 -1h1l1 1h11l1 1l1 5l1 6h29l1 1l1 -1h3l1 1h2l1 -1h5l1 -1h6l1 -1h14l1 -1h13l1 1h11l1 -1h16l1 1h4l1 -1h9l1 1h10l1 1h21l1 1h1l1 -1l1 1h9l1 1h2l1 -1h25l1 1h11l1 -1h15l1 6l1 7h1l1 1h1l1 1h1l1 1h2l1 1h2l1 1h2l1 1h1l1 1h2l1 1h2l1 1h1" stroke="#c090d0"/>
<path d="M20 545h56l1 1h7l1 -1h14l1 1h8l1 1h32l1 -1h2l1 1h33l1 -1h14l1 -1h15l1 1h12l1 -2h62l1 -1h22l1 1h24l1 -1h32l1 1h28l1 1h43l1 1h24l1 -1h8l1 -1h30l1 2h31l1 1l1 1l1 2l1 1l1 1h2l1 1l1 12l1 7l1 -1h4l1 1h6l1 1h9l1 1h5l1 1h5l1 1h1l1 1h4l1 -1h6l1 -1h4l1 -1h3l1 -1h1l1 1h3l1 1h6l1 -22l1 1h2l1 -1h1l1 1h3l1 -1h11l1 1h15l1 1h51l1 -1h9l1 -1h3l1 1h2l1 -1h3l1 -1h3l1 -1h9l1 -2h7l1 6l1 5h25l1 -1l1 1h5l1 1h6l1 -1l1 1h1l1 -1h3l1 -1h10l1 -1h3l1 1h1l1 -1h3l1 1h32l1 1h28l1 1h15l1 1h7l1 -1h8l1 1l1 -1h3l1 2h7l1 -1h9l1 -2h40l1 7l1 8h1l1 1h1l1 1h2l1 1h2l1 1h2l1 1h2l1 1h5l1 1h2" stroke="#800060"/>
<path d="M20 548h22l1 -1h15l1 1h10l1 1h4l1 -1h90l1 -1h12l1 -1h33l1 -1h2l1 1h2l1 -1h15l1 1h26l1 1h52l1 -1h24l1 1h38l1 1h11l1 -1h24l1 -2h11l1 1h36l1 -1h23l1 1h10l1 -1h36l1 2l1 1l1 2l1 1l1 1h2l1 1l1 13l1 6h2l1 1h1l1 1h4l1 1h5l1 1h6l1 1h5l1 1h6l1 1h7l1 -1h6l1 -1h4l1 -1h3l1 -1h10l1 -21h3l1 1h18l1 1h45l1 1h11l1 -1h9l1 -1h6l1 1h3l1 -1h4l1 -1h3l1 -1h3l1 -1h6l1 -1h2l1 1h6l1 -1l1 5l1 5h29l1 1h5l1 1l1 -1h5l1 -1h5l1 -1h9l1 -1h3l1 -1h10l1 1h9l1 1h13l1 1h8l1 1h19l1 1h24l1 1h2l1 -1h1l1 1h3l1 -1l1 1h2l1 -1h61l1 6l1 6h1l1 1h1l1 1l1 -2l1 1h1l1 1h3l1 1h2l1 1h2l1 1h2l1 1h2l1 1" stroke="#d0a0d0"/>
<path d="M20 549h6l1 -1h25l1 1h55l1 1h30l1 -2h37l1 -1h1l1 -1h22l1 2h39l1 -1h13l1 2h17l1 -1h12l1 -2h37l1 1h27l1 1h94l1 -2h29l1 2h30l1 -1h17l1 -2h8l1 2l1 1l1 2l1 1h1l1 1h1l1 1l1 13l1 5h2l1 1h6l1 1h1l1 1h5l1 1h6l1 1l1 1h3l1 1h6l1 1h1l1 -1h5l1 -1h6l1 -1h4l1 -1h2l1 -1h3l1 1h6l1 -20h11l1 1h18l1 1h37l1 1h19l1 -1l1 1h6l1 -1h5l1 1l1 -1h2l1 -1h3l1 -1h3l1 -1h13l1 -1h3l1 5l1 4h28l1 1h5l1 1h2l1 -1h7l1 -1h8l1 -1h6l1 -1h6l1 1h25l1 1h44l1 1h15l1 -1h3l1 1h6l1 -1h4l1 1h12l1 -1l1 1h1l1 -1h6l1 1h22l1 -1h3l1 1h4l1 6l1 6h1l1 1l1 1h1l1 1h1l1 1h3l1 1h2l1 1h2l1 1h3l1 1h2l1 1" stroke="#c03090"/>
<path d="M20 552h12l1 1h5l1 -1h57l1 -1h55l1 1h19l1 -1h5l1 -1h48l1 -1h33l1 1h37l1 1h104l1 -1h16l1 1h15l1 -2h31l1 1h41l1 1h8l1 1h15l1 1l1 2l1 1l1 1l1 1h3l1 14l1 4h2l1 -1l1 1h6l1 1h3l1 1h6l1 1h5l1 1h6l1 1h9l1 -1h5l1 -1h4l1 -1h3l1 -1l1 -1h1l1 1h4l1 1h2l1 -19h14l1 1h8l1 -1h8l1 -1h1l1 1h5l1 2h17l1 -1h2l1 1h24l1 -1h10l1 -1h2l1 1h4l1 -1h3l1 -1h4l1 -1h8l1 -1h8l1 4l1 4h21l1 -2h2l1 1h7l1 1h8l1 -1h6l1 -1h11l1 -1h2l1 1h15l1 1h9l1 1h23l1 -1h19l1 1h24l1 1h8l1 -1h8l1 -1h5l1 1h5l1 -1h29l1 1h7l1 5l1 6h1l1 1h1l1 1l1 1h1l1 1h2l1 1l1 -1l1 1h1l1 1l1 1h3l1 1h2l1 1h2" stroke="#d040a0"/>
<path d="M20 535h59l1 -1h3l1 1h93l1 -1h3l1 2h12l1 1h27l1 -1h4l1 -1h25l1 1h67l1 -1h13l1 -1h38l1 2h33l1 -1h24l1 -1h20l1 -1h38l1 1h23l1 1h7l1 1h10l1 1l1 2l1 1l1 2h1l1 1h1l1 -1l1 13l1 10l1 1h5l1 1h6l1 1h1l1 1h7l1 1h7l1 1h6l1 1l1 -1h7l1 -1h6l1 -1h2l1 -1h10l1 1h1l1 -28l1 1h30l1 1h3l1 -2h3l1 1h8l1 1h37l1 -1h13l1 -1h4l1 -1h3l1 -1h3l1 -1h3l1 -1h2l1 2h11l1 7l1 8h27l1 1h3l1 1h2l1 1h2l1 -1h5l1 -1h8l1 -1h12l1 -1h23l1 1h53l1 1h1l1 1l1 1h11l1 1h7l1 -1h23l1 -1h7l1 -1h27l1 8l1 8l1 1h1l1 1h1l1 1h2l1 1h2l1 1h5l1 1h2l1 1h2l1 1h1" stroke="#e07828"/>
<path d="M20 537h4l1 -1h8l1 2h105l1 1h39l1 -1h55l1 -1h55l1 1h4l1 1h4l1 -1h23l1 -1h20l1 1h3l1 -1h152l1 -1h13l1 1h18l1 1l1 2l1 1l1 2h1l1 1h2l1 13l1 10h3l1 1h4l1 1h5l1 1h6l1 1h5l1 1h5l1 1h11l1 -2h5l1 -1h4l1 -1h2l1 -1h4l1 1h5l1 -26h16l1 1h3l1 1h19l1 1h2l1 1h13l1 -2h11l1 1h15l1 -1h18l1 -1h3l1 -1h4l1 -1h3l1 -1h3l1 -1h10l1 7l1 7h9l1 -1h3l1 2h15l1 1h5l1 1l1 -1h4l1 -1h4l1 -1h17l1 -1h1l1 1h4l1 -1h11l1 1h8l1 1h31l1 1h22l1 1h5l1 1h11l1 -1h6l1 1l1 -1h23l1 -1h5l1 -1h22l1 7l1 8h1l1 1h1l1 1h1l1 1h1l1 1h2l1 1h3l1 1h2l1 1l1 1h2l1 1h2" stroke="#d03030"/>
<path d="M20 530h27l1 -1h12l1 1h42l1 -1h2l1 1h3l1 -1h18l1 1h38l1 1h79l1 -1h38l1 -1h8l1 1h6l1 1h21l1 1h20l1 1h16l1 -1h67l1 -2h45l1 1h42l1 1h15l1 1l1 2l1 2l1 1l1 1h1l1 1h1l1 13l1 12h2l1 1l1 -1h6l1 1h1l1 1h6l1 1h3l1 1h4l1 1h4l1 1h9l1 -1h1l1 -1h8l1 -1l1 -2l1 -1h3l1 -1h1l1 1h7l1 -30h12l1 1h12l1 -1h2l1 1h8l1 1h55l1 -1h10l1 -1h2l1 -1h3l1 -1h3l1 -1h16l1 9l1 9h8l1 -1h18l1 1h5l1 1h4l1 -1h6l1 -1h9l1 -1h4l1 1h3l1 -1l1 1h27l1 1h3l1 2h30l1 1h6l1 -1h13l1 1h3l1 -1h2l1 1h10l1 1h6l1 -1h26l1 -1h14l1 -1h9l1 9l1 8l1 1h1l1 1h1l1 1h1l1 1h1l1 1h1l1 1h2l1 1h2l1 1h2l1 1h4" stroke="#40c020"/>
<path d="M546 581h2l1 1h2l1 1h6l1 1h5l1 1h8l1 1h9l1 1h32" stroke="#e8583a"/>
<path d="M546 581h3l1 1h3l1 1h5l1 1h6l1 -1h1l1 1h9l1 1h1l1 -1h6l1 1h1l1 -1l1 1h25" stroke="#c03090"/>
<path d="M546 585h7l1 1h9l1 1h1l1 1h24l1 -1h1l1 1h4l1 1h18" stroke="#a0522d"/>
<path d="M546 579h5l1 1h5l1 2h10l1 1h11l1 1l1 -1h2l1 1h20l1 1h2l1 -1h7" stroke="#d03030"/>
<path d="M546 578h3l1 1h8l1 1h10l1 1h3l1 -1h2l1 1h16l1 1h2l1 1h6l1 -1h1l1 1h10" stroke="#c86428"/>
<path d="M546 581h8l1 1h5l1 1h2l1 -1h3l1 1h8l1 1h6l1 1h7l1 -1h18l1 1h5" stroke="#803060"/>
<path d="M546 584h10l1 1h6l1 1h7l1 1h10l1 -1h2l1 1h10l1 1h19" stroke="#b06050"/>
<path d="M20 561h9l1 -1h4l1 1h21l1 -1h9l1 -1h14l1 2h19l1 -1h32l1 1h6l1 -1h20l1 1h14l1 -1h1l1 -1h15l1 -1h13l1 1h17l1 -1h15l1 1h3l1 1h30l1 -2h16l1 1h15l1 1h11l1 -1h13l1 -1h10l1 -1h5l1 1h18l1 1h43l1 1h1l1 1h35l1 1h10l1 -1h15l1 -1h31l1 1h2l1 -1h1l1 2h7l1 -1h8l1 1l1 1l1 1l1 1l1 1h1l1 1h1l1 5l1 4h6l1 1h19l1 -1h4l1 1h25l1 1h12l1 -13h12l1 1h16l1 1h3l1 -1h4l1 1h15l1 1h14l1 1h1l1 -1h6l1 1h3l1 1h2l1 -1l1 1h3l1 -1h3l1 1h14l1 1h8l1 1h9l1 1h3l1 1l1 1l1 -1h19l1 -1h28l1 1h24l1 -1h23l1 1h80l1 1h47l1 1h1l1 1l1 -1l1 1h4l1 1h4l1 1h5l1 1h4" stroke="#60b8f0"/>
<path d="M20 562h24l1 -1h5l1 1h15l1 1h2l1 -1h30l1 -1h15l1 1h32l1 1h27l1 -1h1l1 -1l1 -1h7l1 1h6l1 -1h41l1 1h4l1 -1h8l1 1h6l1 -1h2l1 1h13l1 1h28l1 -1h7l1 -1h13l1 2h3l1 -1h18l1 1h1l1 -1h23l1 -1h11l1 1h19l1 1h81l1 -1h11l1 1h9l1 -1h7l1 1h16l1 1l1 1l1 1l1 1h1l1 1h1l1 1l1 4l1 5h2l1 -1h1l1 1h5l1 1h13l1 -1h8l1 1h23l1 1h12l1 -13h3l1 1h11l1 1h9l1 1h13l1 1h2l1 -1h3l1 1h7l1 -1h3l1 1h31l1 1h9l1 2h11l1 1h9l1 -1h1l1 1h7l1 1h34l1 -1h2l1 1h13l1 1h24l1 -1h116l1 1h12l1 -1h20l1 1l1 1h3l1 1l1 -1h2l1 1h7l1 1h5l1 1l1 -2h1" stroke="#58a8f0"/>
<path d="M20 565h34l1 -1h1l1 1h6l1 -1h113l1 -1l1 -1h1l1 -1h5l1 1h22l1 1h21l1 -1h30l1 1h25l1 1h1l1 1h5l1 -1h30l1 -1h5l1 -1h2l1 1h32l1 -1h13l1 1h10l1 1h2l1 -1h8l1 1h16l1 -1h23l1 1h14l1 1h38l1 1h13l1 -1h20l1 1l1 1l1 1l1 1l1 1h1l1 1h1l1 5l1 4h23l1 1h11l1 1h8l1 -1h2l1 -1h4l1 -1h10l1 1h5l1 1l1 -13h11l1 1h14l1 1h5l1 1h13l1 1h13l1 1h13l1 -1h2l1 1h1l1 -1h7l1 1h1l1 -1h1l1 1h6l1 1h6l1 1h4l1 -1l1 1h5l1 1h14l1 1l1 2h1l1 -1h46l1 1h9l1 -2h34l1 -1h4l1 1l1 1h15l1 -1h39l1 1h25l1 -2h15l1 2h10l1 1h3l1 -1h8l1 1h3l1 -2l1 1l1 1h4l1 1h5l1 1h4l1 1h3l1 1l1 1h3" stroke="#9a9ae0"/>
<path d="M20 562h4l1 -1h19l1 1h30l1 -1h66l1 1h34l1 -1h1l1 -1h5l1 -1h20l1 1h8l1 -1h12l1 1h1l1 1h33l1 -1h8l1 -1h11l1 2h9l1 1h10l1 -1h16l1 1h19l1 -1h17l1 -1h1l1 1h10l1 -1h16l1 -1l1 1h5l1 1h14l1 -1h5l1 1h13l1 1h8l1 -1h5l1 2h10l1 2h19l1 -3h20l1 -1h7l1 -1h7l1 3h19l1 1l1 1l1 1l1 1h1l1 1h1l1 1l1 4l1 5h6l1 -1l1 1h28l1 -1h12l1 1h19l1 1l1 -13h6l1 -1h2l1 1h27l1 1h13l1 1h7l1 1h21l1 1l1 -1l1 1h4l1 -1h1l1 1h3l1 -1h12l1 1h6l1 1h4l1 -1h3l1 1h1l1 -1h1l1 1h4l1 1l1 1h5l1 1h2l1 -1h11l1 1h15l1 -1h4l1 1h1l1 -2h5l1 1h12l1 1h1l1 1h24l1 -1h7l1 1h1l1 -1h1l1 1h31l1 -1h13l1 2h20l1 -1h6l1 -1h33l1 1h16l1 1l1 1h2l1 -1l1 1h4l1 1h5l1 1h6l1 1h2" stroke="#80c8f8"/>
<path d="M617 563h2l1 1l1 -3h5l1 1h23l1 2h4l1 -2h8l1 1h7l1 1h5l1 1h26l1 1h7l1 -1h1l1 1h7l1 1h10l1 1h14l1 -1l1 -1h4l1 -1h14l1 1h5l1 -1h11l1 1h6l1 -1h17l1 2h16l1 -1h18l1 -1h4l1 1h2l1 1h2l1 1h23l1 -1h7l1 1h11l1 1h18l1 -1h37l1 -1h2l1 1h1l1 -1h2l1 -1h5l1 1h1l1 5l1 5h7l1 2h4l1 1h5l1 1h4l1 1" stroke="#c03090"/>
<path d="M617 561h6l1 1h8l1 1h9l1 -1h11l1 -1h4l1 1h25l1 1h16l1 1h18l1 1h10l1 1h8l1 1h3l1 1h3l1 -1l1 -1l1 -1h5l1 -1h10l1 1h15l1 1h15l1 -2h39l1 2h37l1 -1h12l1 -1h4l1 2h7l1 2h4l1 -1h18l1 -1h4l1 -1h9l1 1h11l1 -1h21l1 5l1 5h2l1 1h5l1 2h4l1 1h5l1 1h1l1 -1h1l1 1" stroke="#d060b0"/>
<path d="M751 560l1 1l1 1l1 1l1 1l1 1l1 1h1l1 1l1 1h1l1 1l1 1h1l1 1h1l1 2l1 1h1l1 1h4l1 1h6l1 1l1 -1l1 1h3l1 1h10l1 -1h41l1 1h1l1 -1h18l1 1h39l1 -1h4l1 1h2l1 1h1l1 1l1 -1h3l1 -1h3l1 -1h21l1 1h34l1 1h2l1 1h8l1 1h7l1 1h5" stroke="#8a7a20"/>
<path d="M20 527h8l1 1h25l1 -1h2l1 1h86l1 -1h7l1 1h114l1 -1h32l1 1h8l1 -1h24l1 1h29l1 -1h6l1 1h1l1 -1h2l1 1h4l1 -1h4l1 1h4l1 -1h31l1 1h8l1 -1h6l1 1h4l1 -1h76l1 1h14l1 2l1 1l1 2l1 1l1 1l1 1h2l1 13l1 14h6l1 1h5l1 1h7l1 1h7l1 1h3l1 1h5l1 1l1 -1h5l1 -1h6l1 -1h3l1 -1h2l1 -1h2l1 1h1l1 -1h5l1 -32h5l1 1h5l1 1h22l1 1h30l1 1h5l1 -1h8l1 1h2l1 -1h15l1 -1h5l1 -1h3l1 -1h1l1 -1h3l1 -1h16l1 10l1 9h26l1 1h5l1 1h6l1 -1h1l1 -1h6l1 -1h28l1 1h33l1 1h23l1 1h1l1 -1h2l1 1l1 1h33l1 -1h31l1 -1h18l1 9l1 9h1l1 1h1l1 1h1l1 1h2l1 1h1l1 1h2l1 1h2l1 1h2l1 1h4" stroke="#000"/>
</g>
<rect x="20" y="478" width="594" height="1" fill="#000"/>
<rect x="616" y="478" width="388" height="1" fill="#000"/>
<rect x="20" y="484" width="594" height="1" fill="#000"/>
<rect x="616" y="484" width="388" height="1" fill="#000"/>
<rect x="20" y="499" width="594" height="1" fill="#000"/>
<rect x="616" y="499" width="388" height="1" fill="#000"/>
<rect x="20" y="555" width="984" height="1" fill="#000"/>
<rect x="20" y="562" width="984" height="1" fill="#000"/>
<rect x="20" y="577" width="984" height="1" fill="#000"/>
</svg>
</body></html>
